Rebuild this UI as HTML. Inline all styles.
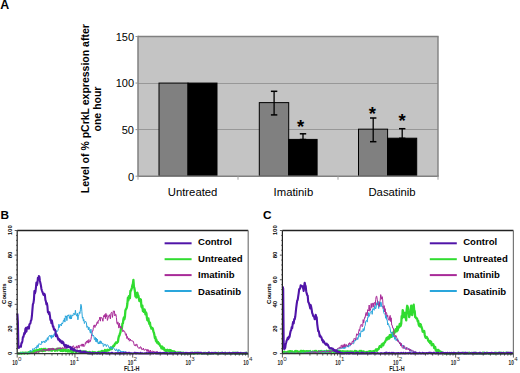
<!DOCTYPE html>
<html><head><meta charset="utf-8"><style>
html,body{margin:0;padding:0;background:#fff;}
body{width:520px;height:373px;overflow:hidden;font-family:"Liberation Sans", sans-serif;}
svg{display:block;}
</style></head><body>
<svg width="520" height="373" viewBox="0 0 520 373">
<rect x="138.0" y="36.5" width="300.0" height="139.7" fill="#c4c4c4"/>
<line x1="138.0" y1="129.50" x2="438.0" y2="129.50" stroke="#989898" stroke-width="1"/>
<line x1="138.0" y1="83.50" x2="438.0" y2="83.50" stroke="#989898" stroke-width="1"/>
<line x1="138.0" y1="36.5" x2="438.6" y2="36.5" stroke="#808080" stroke-width="1.4"/>
<line x1="438.0" y1="36.5" x2="438.0" y2="176.2" stroke="#808080" stroke-width="1.4"/>
<rect x="159" y="83.07" width="29" height="93.13" fill="#808080" stroke="#000" stroke-width="1"/>
<rect x="188" y="83.07" width="29" height="93.13" fill="#000" stroke="#000" stroke-width="1"/>
<rect x="259.3" y="102.62" width="29.399999999999977" height="73.58" fill="#808080" stroke="#000" stroke-width="1"/>
<rect x="288.7" y="139.41" width="28.400000000000034" height="36.79" fill="#000" stroke="#000" stroke-width="1"/>
<rect x="358.5" y="129.17" width="29.100000000000023" height="47.03" fill="#808080" stroke="#000" stroke-width="1"/>
<rect x="387.6" y="138.20" width="29.099999999999966" height="38.00" fill="#000" stroke="#000" stroke-width="1"/>
<line x1="274.1" y1="91.3" x2="274.1" y2="114.9" stroke="#000" stroke-width="1.3"/>
<line x1="270.90000000000003" y1="91.3" x2="277.3" y2="91.3" stroke="#000" stroke-width="1.5"/>
<line x1="270.90000000000003" y1="114.9" x2="277.3" y2="114.9" stroke="#000" stroke-width="1.5"/>
<line x1="303.0" y1="133.8" x2="303.0" y2="139.5" stroke="#000" stroke-width="1.3"/>
<line x1="299.8" y1="133.8" x2="306.2" y2="133.8" stroke="#000" stroke-width="1.5"/>
<line x1="299.8" y1="139.5" x2="306.2" y2="139.5" stroke="#000" stroke-width="1.5"/>
<line x1="373.2" y1="118.0" x2="373.2" y2="141.7" stroke="#000" stroke-width="1.3"/>
<line x1="370.0" y1="118.0" x2="376.4" y2="118.0" stroke="#000" stroke-width="1.5"/>
<line x1="370.0" y1="141.7" x2="376.4" y2="141.7" stroke="#000" stroke-width="1.5"/>
<line x1="402.2" y1="128.7" x2="402.2" y2="138.3" stroke="#000" stroke-width="1.3"/>
<line x1="399.0" y1="128.7" x2="405.4" y2="128.7" stroke="#000" stroke-width="1.5"/>
<line x1="399.0" y1="138.3" x2="405.4" y2="138.3" stroke="#000" stroke-width="1.5"/>
<line x1="138.0" y1="35.8" x2="138.0" y2="176.89999999999998" stroke="#808080" stroke-width="1.5"/>
<line x1="138.0" y1="176.2" x2="438.7" y2="176.2" stroke="#808080" stroke-width="1.5"/>
<line x1="135.5" y1="176.20" x2="138.0" y2="176.20" stroke="#909090" stroke-width="1"/>
<line x1="135.5" y1="129.63" x2="138.0" y2="129.63" stroke="#909090" stroke-width="1"/>
<line x1="135.5" y1="83.07" x2="138.0" y2="83.07" stroke="#909090" stroke-width="1"/>
<line x1="135.5" y1="36.50" x2="138.0" y2="36.50" stroke="#909090" stroke-width="1"/>
<line x1="138.0" y1="176.2" x2="138.0" y2="179.7" stroke="#a0a0a0" stroke-width="1"/>
<line x1="238.0" y1="176.2" x2="238.0" y2="179.7" stroke="#a0a0a0" stroke-width="1"/>
<line x1="338.0" y1="176.2" x2="338.0" y2="179.7" stroke="#a0a0a0" stroke-width="1"/>
<line x1="438.0" y1="176.2" x2="438.0" y2="179.7" stroke="#a0a0a0" stroke-width="1"/>
<text x="134" y="180.60" text-anchor="end" font-size="11" font-family="'Liberation Sans', sans-serif" fill="#000">0</text>
<text x="134" y="134.03" text-anchor="end" font-size="11" font-family="'Liberation Sans', sans-serif" fill="#000">50</text>
<text x="134" y="87.47" text-anchor="end" font-size="11" font-family="'Liberation Sans', sans-serif" fill="#000">100</text>
<text x="134" y="40.90" text-anchor="end" font-size="11" font-family="'Liberation Sans', sans-serif" fill="#000">150</text>
<text x="192.6" y="196.1" text-anchor="middle" font-size="11.3" font-family="'Liberation Sans', sans-serif" fill="#000">Untreated</text>
<text x="293.4" y="196.1" text-anchor="middle" font-size="11.3" font-family="'Liberation Sans', sans-serif" fill="#000">Imatinib</text>
<text x="392" y="196.1" text-anchor="middle" font-size="11.3" font-family="'Liberation Sans', sans-serif" fill="#000">Dasatinib</text>
<text x="300.5" y="133.11" text-anchor="middle" font-size="18.5" font-weight="bold" font-family="'Liberation Sans', sans-serif" fill="#000">*</text>
<text x="372.4" y="119.81" text-anchor="middle" font-size="18.5" font-weight="bold" font-family="'Liberation Sans', sans-serif" fill="#000">*</text>
<text x="402" y="126.91" text-anchor="middle" font-size="18.5" font-weight="bold" font-family="'Liberation Sans', sans-serif" fill="#000">*</text>
<text transform="translate(88.7,108.7) rotate(-90)" text-anchor="middle" font-size="10.5" font-weight="bold" font-family="'Liberation Sans', sans-serif" fill="#000">Level of % pCrkL expression after</text>
<text transform="translate(100.9,109) rotate(-90)" text-anchor="middle" font-size="10.5" font-weight="bold" font-family="'Liberation Sans', sans-serif" fill="#000">one hour</text>
<text x="0.3" y="8.9" font-size="12.4" font-weight="bold" font-family="'Liberation Sans', sans-serif" fill="#000">A</text>
<text x="0.6" y="219.1" font-size="11.8" font-weight="bold" font-family="'Liberation Sans', sans-serif" fill="#000">B</text>
<text x="263.0" y="219.1" font-size="11.8" font-weight="bold" font-family="'Liberation Sans', sans-serif" fill="#000">C</text>
<path d="M17.40,352.92 L17.90,353.50 L18.40,353.11 L18.90,353.50 L19.40,353.50 L19.90,353.32 L20.40,353.29 L20.90,352.60 L21.40,353.50 L21.90,353.50 L22.40,352.98 L22.90,352.57 L23.40,353.05 L23.90,353.35 L24.40,353.50 L24.90,352.73 L25.40,352.80 L25.90,352.71 L26.40,352.92 L26.90,352.59 L27.40,353.50 L27.90,352.63 L28.40,352.97 L28.90,352.11 L29.40,353.04 L29.90,351.89 L30.40,351.67 L30.90,352.33 L31.40,352.87 L31.90,352.24 L32.40,352.35 L32.90,351.69 L33.40,352.57 L33.90,351.02 L34.40,350.46 L34.90,351.47 L35.40,351.21 L35.90,350.46 L36.40,350.10 L36.90,351.07 L37.40,350.21 L37.90,349.87 L38.40,351.60 L38.90,351.50 L39.40,349.56 L39.90,349.11 L40.40,350.72 L40.90,350.08 L41.40,350.68 L41.90,349.05 L42.40,351.03 L42.90,350.57 L43.40,350.89 L43.90,348.91 L44.40,350.01 L44.90,350.70 L45.40,348.82 L45.90,350.25 L46.40,349.91 L46.90,349.93 L47.40,349.87 L47.90,349.51 L48.40,350.36 L48.90,349.52 L49.40,349.92 L49.90,350.28 L50.40,349.85 L50.90,349.10 L51.40,350.55 L51.90,350.79 L52.40,349.03 L52.90,348.91 L53.40,349.18 L53.90,349.69 L54.40,349.70 L54.90,350.87 L55.40,350.18 L55.90,349.90 L56.40,349.04 L56.90,349.70 L57.40,350.65 L57.90,349.88 L58.40,348.63 L58.90,349.29 L59.40,348.70 L59.90,349.89 L60.40,350.82 L60.90,350.69 L61.40,348.83 L61.90,350.81 L62.40,349.48 L62.90,351.02 L63.40,349.81 L63.90,350.68 L64.40,350.24 L64.90,349.46 L65.40,350.28 L65.90,351.14 L66.40,350.23 L66.90,350.44 L67.40,350.30 L67.90,351.47 L68.40,349.89 L68.90,350.58 L69.40,351.33 L69.90,351.52 L70.40,350.62 L70.90,350.53 L71.40,351.83 L71.90,350.47 L72.40,352.03 L72.90,352.09 L73.40,350.35 L73.90,350.95 L74.40,350.90 L74.90,351.10 L75.40,351.86 L75.90,352.18 L76.40,351.63 L76.90,351.02 L77.40,350.91 L77.90,351.35 L78.40,351.45 L78.90,351.16 L79.40,351.20 L79.90,352.04 L80.40,351.80 L80.90,352.22 L81.40,352.58 L81.90,351.34 L82.40,351.37 L82.90,351.63 L83.40,352.63 L83.90,352.75 L84.40,351.56 L84.90,351.71 L85.40,352.04 L85.90,351.34 L86.40,352.02 L86.90,352.32 L87.40,352.25 L87.90,353.01 L88.40,352.60 L88.90,352.97 L89.40,352.04 L89.90,352.42 L90.40,352.66 L90.90,353.04 L91.40,352.87 L91.90,352.95 L92.40,351.88 L92.90,352.05 L93.40,352.31 L93.90,352.45 L94.40,352.79 L94.90,352.17 L95.40,353.03 L95.90,353.10 L96.40,352.91 L96.90,353.01 L97.40,352.28 L97.90,352.24 L98.40,351.80 L98.90,351.79 L99.40,353.03 L99.90,351.83 L100.40,351.66 L100.90,352.23 L101.40,352.16 L101.90,350.85 L102.40,352.09 L102.90,351.11 L103.40,351.71 L103.90,351.28 L104.40,351.90 L104.90,349.95 L105.40,350.34 L105.90,350.45 L106.40,351.11 L106.90,350.64 L107.40,349.73 L107.90,350.60 L108.40,350.17 L108.90,350.03 L109.40,350.10 L109.90,349.09 L110.40,348.75 L110.90,347.44 L111.40,349.14 L111.90,348.89 L112.40,347.21 L112.90,347.03 L113.40,345.71 L113.90,346.15 L114.40,345.42 L114.90,343.96 L115.40,343.59 L115.90,342.51 L116.40,343.05 L116.90,343.04 L117.40,341.81 L117.90,341.97 L118.40,338.48 L118.90,336.14 L119.40,335.68 L119.90,333.64 L120.40,332.44 L120.90,329.05 L121.40,327.61 L121.90,328.20 L122.40,323.68 L122.90,323.29 L123.40,319.35 L123.90,317.48 L124.40,319.34 L124.90,316.81 L125.40,310.44 L125.90,309.25 L126.40,308.59 L126.90,307.19 L127.40,303.49 L127.90,297.73 L128.40,300.33 L128.90,296.13 L129.40,296.62 L129.90,298.27 L130.40,291.00 L130.90,290.93 L131.40,289.38 L131.90,287.80 L132.40,285.19 L132.90,283.96 L133.40,279.85 L133.90,286.80 L134.40,288.22 L134.90,291.09 L135.40,296.39 L135.90,296.40 L136.40,297.53 L136.90,293.10 L137.40,292.81 L137.90,295.31 L138.40,295.71 L138.90,298.48 L139.40,301.08 L139.90,299.09 L140.40,301.37 L140.90,299.49 L141.40,306.41 L141.90,307.66 L142.40,305.57 L142.90,311.13 L143.40,309.80 L143.90,311.90 L144.40,309.29 L144.90,310.51 L145.40,314.30 L145.90,312.27 L146.40,313.21 L146.90,317.85 L147.40,320.14 L147.90,320.52 L148.40,318.44 L148.90,322.20 L149.40,323.99 L149.90,322.50 L150.40,326.09 L150.90,326.83 L151.40,328.56 L151.90,328.21 L152.40,327.96 L152.90,329.04 L153.40,331.60 L153.90,332.73 L154.40,335.08 L154.90,338.01 L155.40,337.01 L155.90,340.87 L156.40,339.60 L156.90,342.51 L157.40,342.55 L157.90,341.88 L158.40,343.78 L158.90,343.19 L159.40,343.88 L159.90,345.53 L160.40,346.06 L160.90,346.51 L161.40,348.31 L161.90,346.33 L162.40,346.98 L162.90,348.70 L163.40,347.75 L163.90,347.98 L164.40,350.03 L164.90,350.38 L165.40,350.73 L165.90,349.88 L166.40,351.16 L166.90,350.39 L167.40,349.79 L167.90,350.59 L168.40,350.62 L168.90,351.46 L169.40,349.99 L169.90,352.03 L170.40,350.19 L170.90,350.39 L171.40,351.67 L171.90,350.91 L172.40,352.59 L172.90,352.63 L173.40,351.40 L173.90,351.23 L174.40,352.42 L174.90,352.99 L175.40,351.99 L175.90,352.93 L176.40,352.94 L176.90,353.09 L177.40,352.46 L177.90,352.55 L178.40,352.84 L178.90,352.44 L179.40,352.94 L179.90,352.53 L180.40,352.50 L180.90,353.39 L181.40,352.82 L181.90,353.50 L182.40,353.50 L182.90,352.64 L183.40,352.86 L183.90,353.32 L184.40,353.13 L184.90,352.98 L185.40,353.50 L185.90,353.50 L186.40,353.32 L186.90,353.50 L187.40,353.18 L187.90,353.19 L188.40,353.37 L188.90,353.49 L189.40,353.14 L189.90,353.50 L190.40,353.50 L190.90,353.02 L191.40,353.50 L191.90,352.74 L192.40,353.44 L192.90,353.50 L193.40,353.50 L193.90,353.48 L194.40,352.72 L194.90,353.50 L195.40,353.28 L195.90,352.97 L196.40,353.25 L196.90,353.01 L197.40,353.50 L197.90,352.78 L198.40,352.94 L198.90,353.11 L199.40,352.91 L199.90,353.12 L200.40,353.33 L200.90,353.20 L201.40,353.50 L201.90,353.50 L202.40,353.50 L202.90,353.34 L203.40,353.42 L203.90,352.92 L204.40,353.50 L204.90,352.81 L205.40,352.88 L205.90,353.02 L206.40,353.50 L206.90,353.19 L207.40,353.50 L207.90,353.50 L208.40,352.77 L208.90,353.50 L209.40,353.50 L209.90,353.50 L210.40,353.50 L210.90,353.50 L211.40,353.34 L211.90,353.50 L212.40,353.19 L212.90,353.23 L213.40,353.50 L213.90,352.97 L214.40,352.94 L214.90,352.86 L215.40,352.90 L215.90,353.50 L216.40,353.50 L216.90,352.98 L217.40,353.50 L217.90,353.39 L218.40,352.74 L218.90,353.50 L219.40,353.36 L219.90,353.50 L220.40,353.50 L220.90,352.88 L221.40,353.09 L221.90,352.99 L222.40,352.94 L222.90,353.50 L223.40,353.50 L223.90,353.42 L224.40,352.99 L224.90,352.84 L225.40,353.20 L225.90,353.01 L226.40,353.44 L226.90,353.50 L227.40,353.50 L227.90,352.97 L228.40,353.05 L228.90,353.26 L229.40,353.50 L229.90,353.50 L230.40,353.38 L230.90,353.50 L231.40,353.50 L231.90,353.32 L232.40,353.50 L232.90,352.72 L233.40,352.78 L233.90,353.50 L234.40,353.50 L234.90,352.79 L235.40,353.39 L235.90,352.85 L236.40,353.50 L236.90,353.50 L237.40,352.72 L237.90,353.50 L238.40,353.50 L238.90,353.50 L239.40,353.11 L239.90,353.50 L240.40,353.50 L240.90,353.50 L241.40,353.50 L241.90,353.00 L242.40,353.50 L242.90,353.50 L243.40,353.50 L243.90,353.50 L244.40,353.50 L244.90,352.85 L245.40,353.50 L245.90,353.50 L246.40,352.74 L246.90,353.50 L247.40,353.50 L247.90,353.28" fill="none" stroke="#30dc30" stroke-width="2.3" stroke-linejoin="round"/>
<path d="M17.40,352.90 L17.90,353.46 L18.40,352.77 L18.90,353.50 L19.40,352.89 L19.90,353.25 L20.40,353.50 L20.90,353.50 L21.40,353.41 L21.90,353.50 L22.40,353.35 L22.90,353.50 L23.40,352.93 L23.90,353.50 L24.40,353.44 L24.90,353.25 L25.40,353.21 L25.90,352.63 L26.40,353.38 L26.90,353.21 L27.40,353.46 L27.90,353.24 L28.40,353.50 L28.90,353.50 L29.40,353.50 L29.90,352.92 L30.40,353.19 L30.90,353.50 L31.40,353.10 L31.90,352.85 L32.40,353.14 L32.90,352.82 L33.40,353.50 L33.90,353.32 L34.40,352.46 L34.90,353.50 L35.40,352.52 L35.90,352.14 L36.40,353.05 L36.90,351.46 L37.40,351.50 L37.90,351.66 L38.40,352.48 L38.90,351.23 L39.40,351.51 L39.90,350.45 L40.40,350.48 L40.90,350.59 L41.40,351.31 L41.90,351.42 L42.40,351.19 L42.90,349.40 L43.40,350.04 L43.90,349.10 L44.40,350.51 L44.90,349.20 L45.40,350.88 L45.90,350.41 L46.40,350.56 L46.90,349.03 L47.40,350.74 L47.90,350.22 L48.40,348.40 L48.90,350.74 L49.40,348.34 L49.90,350.79 L50.40,348.79 L50.90,348.68 L51.40,349.44 L51.90,348.02 L52.40,350.01 L52.90,350.01 L53.40,348.05 L53.90,349.96 L54.40,349.13 L54.90,349.03 L55.40,349.05 L55.90,349.55 L56.40,350.23 L56.90,349.01 L57.40,347.77 L57.90,349.20 L58.40,348.27 L58.90,348.27 L59.40,347.93 L59.90,348.79 L60.40,347.57 L60.90,349.31 L61.40,348.03 L61.90,348.76 L62.40,347.57 L62.90,347.60 L63.40,348.72 L63.90,347.65 L64.40,348.11 L64.90,346.93 L65.40,348.58 L65.90,347.86 L66.40,346.83 L66.90,347.82 L67.40,346.77 L67.90,346.26 L68.40,346.73 L68.90,346.50 L69.40,346.88 L69.90,345.96 L70.40,348.85 L70.90,348.47 L71.40,347.98 L71.90,348.31 L72.40,347.06 L72.90,345.96 L73.40,345.74 L73.90,346.90 L74.40,348.65 L74.90,347.13 L75.40,347.83 L75.90,348.04 L76.40,345.85 L76.90,348.54 L77.40,348.18 L77.90,346.06 L78.40,345.21 L78.90,348.07 L79.40,347.86 L79.90,345.06 L80.40,345.46 L80.90,344.66 L81.40,344.35 L81.90,346.30 L82.40,343.92 L82.90,346.30 L83.40,343.96 L83.90,346.61 L84.40,345.85 L84.90,345.54 L85.40,342.56 L85.90,343.65 L86.40,341.24 L86.90,342.48 L87.40,340.51 L87.90,342.81 L88.40,343.00 L88.90,339.50 L89.40,342.00 L89.90,342.21 L90.40,341.16 L90.90,339.49 L91.40,336.67 L91.90,333.55 L92.40,330.86 L92.90,330.94 L93.40,327.44 L93.90,325.21 L94.40,325.02 L94.90,327.57 L95.40,326.52 L95.90,324.73 L96.40,325.21 L96.90,322.52 L97.40,321.70 L97.90,323.60 L98.40,320.29 L98.90,320.50 L99.40,319.62 L99.90,317.02 L100.40,321.17 L100.90,317.23 L101.40,317.66 L101.90,317.76 L102.40,318.91 L102.90,321.26 L103.40,317.28 L103.90,315.39 L104.40,316.92 L104.90,314.40 L105.40,318.62 L105.90,313.38 L106.40,316.74 L106.90,314.84 L107.40,320.43 L107.90,318.74 L108.40,317.31 L108.90,315.50 L109.40,314.67 L109.90,316.82 L110.40,318.96 L110.90,313.42 L111.40,312.40 L111.90,312.21 L112.40,317.45 L112.90,314.83 L113.40,310.80 L113.90,311.37 L114.40,311.06 L114.90,316.00 L115.40,314.27 L115.90,314.24 L116.40,317.52 L116.90,323.14 L117.40,324.28 L117.90,321.87 L118.40,324.94 L118.90,328.11 L119.40,323.28 L119.90,326.81 L120.40,328.17 L120.90,326.14 L121.40,327.43 L121.90,328.47 L122.40,329.25 L122.90,331.85 L123.40,330.34 L123.90,330.46 L124.40,331.78 L124.90,331.68 L125.40,334.51 L125.90,335.47 L126.40,333.76 L126.90,338.57 L127.40,336.48 L127.90,338.39 L128.40,339.95 L128.90,338.06 L129.40,341.18 L129.90,340.65 L130.40,339.09 L130.90,340.84 L131.40,340.68 L131.90,340.78 L132.40,340.69 L132.90,341.66 L133.40,341.48 L133.90,343.82 L134.40,345.57 L134.90,345.12 L135.40,344.60 L135.90,346.15 L136.40,344.31 L136.90,344.10 L137.40,345.84 L137.90,347.27 L138.40,348.07 L138.90,348.30 L139.40,347.51 L139.90,348.58 L140.40,346.71 L140.90,346.90 L141.40,347.65 L141.90,349.83 L142.40,349.54 L142.90,349.24 L143.40,348.05 L143.90,350.09 L144.40,350.01 L144.90,350.37 L145.40,349.25 L145.90,349.27 L146.40,349.46 L146.90,351.33 L147.40,349.50 L147.90,351.52 L148.40,349.69 L148.90,351.86 L149.40,350.80 L149.90,351.92 L150.40,350.01 L150.90,352.07 L151.40,351.95 L151.90,351.75 L152.40,351.08 L152.90,350.92 L153.40,352.35 L153.90,351.21 L154.40,352.67 L154.90,351.77 L155.40,352.12 L155.90,351.81 L156.40,351.59 L156.90,351.76 L157.40,351.55 L157.90,351.98 L158.40,353.30 L158.90,351.98 L159.40,352.51 L159.90,353.46 L160.40,352.96 L160.90,352.58 L161.40,352.95 L161.90,352.47 L162.40,353.39 L162.90,353.06 L163.40,352.93 L163.90,353.07 L164.40,353.08 L164.90,353.43 L165.40,353.50 L165.90,352.89 L166.40,353.04 L166.90,353.50 L167.40,353.04 L167.90,352.91 L168.40,353.39 L168.90,353.50 L169.40,353.50 L169.90,352.99 L170.40,353.43 L170.90,353.39 L171.40,353.33 L171.90,352.66 L172.40,353.06 L172.90,353.48 L173.40,353.50 L173.90,353.08 L174.40,352.83 L174.90,353.20 L175.40,353.50 L175.90,353.32 L176.40,353.15 L176.90,353.42 L177.40,353.32 L177.90,353.30 L178.40,352.65 L178.90,353.50 L179.40,353.25 L179.90,353.50 L180.40,353.50 L180.90,353.20 L181.40,353.26 L181.90,352.85 L182.40,353.30 L182.90,353.50 L183.40,352.83 L183.90,352.74 L184.40,353.50 L184.90,353.20 L185.40,352.74 L185.90,353.17 L186.40,353.50 L186.90,352.81 L187.40,352.70 L187.90,353.27 L188.40,353.30 L188.90,353.50 L189.40,352.65 L189.90,353.13 L190.40,353.50 L190.90,353.43 L191.40,353.27 L191.90,352.95 L192.40,352.82 L192.90,353.40 L193.40,353.41 L193.90,353.34 L194.40,353.09 L194.90,353.49 L195.40,353.03 L195.90,352.95 L196.40,353.50 L196.90,353.38 L197.40,353.50 L197.90,353.07 L198.40,352.70 L198.90,353.03 L199.40,353.50 L199.90,353.32 L200.40,352.92 L200.90,352.65 L201.40,353.13 L201.90,353.05 L202.40,352.76 L202.90,353.50 L203.40,353.50 L203.90,353.50 L204.40,353.14 L204.90,353.50 L205.40,353.21 L205.90,353.26 L206.40,353.50 L206.90,353.13 L207.40,353.15 L207.90,353.44 L208.40,352.91 L208.90,353.50 L209.40,353.50 L209.90,352.75 L210.40,353.45 L210.90,353.50 L211.40,353.10 L211.90,353.50 L212.40,353.07 L212.90,353.50 L213.40,353.19 L213.90,353.05 L214.40,353.50 L214.90,353.14 L215.40,352.82 L215.90,353.50 L216.40,353.50 L216.90,353.20 L217.40,353.50 L217.90,352.69 L218.40,353.15 L218.90,353.29 L219.40,352.87 L219.90,352.83 L220.40,353.13 L220.90,353.50 L221.40,353.00 L221.90,353.02 L222.40,352.65 L222.90,353.50 L223.40,352.76 L223.90,352.95 L224.40,353.50 L224.90,353.50 L225.40,352.64 L225.90,352.77 L226.40,353.12 L226.90,353.50 L227.40,352.72 L227.90,353.50 L228.40,352.94 L228.90,352.79 L229.40,353.50 L229.90,352.96 L230.40,352.81 L230.90,353.35 L231.40,353.06 L231.90,352.68 L232.40,352.83 L232.90,353.38 L233.40,353.40 L233.90,352.96 L234.40,352.85 L234.90,352.95 L235.40,353.41 L235.90,353.02 L236.40,353.50 L236.90,352.78 L237.40,352.68 L237.90,353.40 L238.40,353.50 L238.90,353.01 L239.40,353.10 L239.90,353.08 L240.40,353.16 L240.90,353.50 L241.40,353.45 L241.90,353.50 L242.40,352.82 L242.90,353.48 L243.40,353.19 L243.90,352.98 L244.40,353.39 L244.90,353.15 L245.40,353.13 L245.90,353.18 L246.40,353.50 L246.90,353.50 L247.40,353.50 L247.90,353.18" fill="none" stroke="#a82a98" stroke-width="1.0" stroke-linejoin="round"/>
<path d="M17.40,353.50 L17.90,353.32 L18.40,353.50 L18.90,353.35 L19.40,353.50 L19.90,352.80 L20.40,353.29 L20.90,352.81 L21.40,352.64 L21.90,352.74 L22.40,353.00 L22.90,352.89 L23.40,353.39 L23.90,353.34 L24.40,352.89 L24.90,353.50 L25.40,353.11 L25.90,353.50 L26.40,353.15 L26.90,352.83 L27.40,352.87 L27.90,353.50 L28.40,353.10 L28.90,352.59 L29.40,352.10 L29.90,351.42 L30.40,350.29 L30.90,351.44 L31.40,351.09 L31.90,351.35 L32.40,350.06 L32.90,348.57 L33.40,349.20 L33.90,349.27 L34.40,349.07 L34.90,347.79 L35.40,347.61 L35.90,347.41 L36.40,348.59 L36.90,345.60 L37.40,345.24 L37.90,347.67 L38.40,345.99 L38.90,343.62 L39.40,343.93 L39.90,344.08 L40.40,344.06 L40.90,344.81 L41.40,343.63 L41.90,341.12 L42.40,342.75 L42.90,342.60 L43.40,342.04 L43.90,340.99 L44.40,341.34 L44.90,342.89 L45.40,340.29 L45.90,339.92 L46.40,341.49 L46.90,339.44 L47.40,337.65 L47.90,340.24 L48.40,337.63 L48.90,336.16 L49.40,335.80 L49.90,335.10 L50.40,337.12 L50.90,335.47 L51.40,338.52 L51.90,334.94 L52.40,337.38 L52.90,336.33 L53.40,337.13 L53.90,334.29 L54.40,333.50 L54.90,335.61 L55.40,334.74 L55.90,334.60 L56.40,330.67 L56.90,331.71 L57.40,331.15 L57.90,330.79 L58.40,328.43 L58.90,324.18 L59.40,327.44 L59.90,325.07 L60.40,324.28 L60.90,325.26 L61.40,325.91 L61.90,322.89 L62.40,323.98 L62.90,322.87 L63.40,320.40 L63.90,321.16 L64.40,318.29 L64.90,322.10 L65.40,315.81 L65.90,316.71 L66.40,315.92 L66.90,320.65 L67.40,315.42 L67.90,315.46 L68.40,315.99 L68.90,314.70 L69.40,318.41 L69.90,316.43 L70.40,319.05 L70.90,314.78 L71.40,318.95 L71.90,316.34 L72.40,315.33 L72.90,316.02 L73.40,313.48 L73.90,313.39 L74.40,313.49 L74.90,315.10 L75.40,310.21 L75.90,314.04 L76.40,314.92 L76.90,316.23 L77.40,313.30 L77.90,319.80 L78.40,316.25 L78.90,314.70 L79.40,311.90 L79.90,313.51 L80.40,309.82 L80.90,304.32 L81.40,305.75 L81.90,311.66 L82.40,318.19 L82.90,317.07 L83.40,321.05 L83.90,319.47 L84.40,323.54 L84.90,322.30 L85.40,321.11 L85.90,321.73 L86.40,322.69 L86.90,327.43 L87.40,326.26 L87.90,326.49 L88.40,329.98 L88.90,327.09 L89.40,329.53 L89.90,331.20 L90.40,333.17 L90.90,329.13 L91.40,332.72 L91.90,332.78 L92.40,335.18 L92.90,336.20 L93.40,335.24 L93.90,336.24 L94.40,339.67 L94.90,339.63 L95.40,337.34 L95.90,341.76 L96.40,338.12 L96.90,342.18 L97.40,339.11 L97.90,342.95 L98.40,344.04 L98.90,342.19 L99.40,343.80 L99.90,340.98 L100.40,340.89 L100.90,343.75 L101.40,341.56 L101.90,343.58 L102.40,343.61 L102.90,343.01 L103.40,346.49 L103.90,345.74 L104.40,345.16 L104.90,343.99 L105.40,344.31 L105.90,345.75 L106.40,346.59 L106.90,344.80 L107.40,344.71 L107.90,345.23 L108.40,345.91 L108.90,347.12 L109.40,348.36 L109.90,347.29 L110.40,348.30 L110.90,346.50 L111.40,348.17 L111.90,349.25 L112.40,347.23 L112.90,347.75 L113.40,347.68 L113.90,348.13 L114.40,349.27 L114.90,350.16 L115.40,349.99 L115.90,350.93 L116.40,348.83 L116.90,349.72 L117.40,350.36 L117.90,351.76 L118.40,349.48 L118.90,351.36 L119.40,349.79 L119.90,350.07 L120.40,351.20 L120.90,352.12 L121.40,351.05 L121.90,351.76 L122.40,351.83 L122.90,351.06 L123.40,352.23 L123.90,351.40 L124.40,352.69 L124.90,351.73 L125.40,351.62 L125.90,352.13 L126.40,352.92 L126.90,353.16 L127.40,353.50 L127.90,352.92 L128.40,352.47 L128.90,353.50 L129.40,352.66 L129.90,353.50 L130.40,352.89 L130.90,352.78 L131.40,353.50 L131.90,353.50 L132.40,353.03 L132.90,353.50 L133.40,353.50 L133.90,353.50 L134.40,353.50 L134.90,353.20 L135.40,353.14 L135.90,353.39 L136.40,353.02 L136.90,353.50 L137.40,353.15 L137.90,353.15 L138.40,352.72 L138.90,353.50 L139.40,353.47 L139.90,353.17 L140.40,353.50 L140.90,353.50 L141.40,353.50 L141.90,352.98 L142.40,352.94 L142.90,353.43 L143.40,353.50 L143.90,353.50 L144.40,353.50 L144.90,353.01 L145.40,353.50 L145.90,353.50 L146.40,352.96 L146.90,353.50 L147.40,353.50 L147.90,352.67 L148.40,352.92 L148.90,353.50 L149.40,353.50 L149.90,353.50 L150.40,353.43 L150.90,353.14 L151.40,352.65 L151.90,352.69 L152.40,353.50 L152.90,352.78 L153.40,353.38 L153.90,353.44 L154.40,353.01 L154.90,353.33 L155.40,353.50 L155.90,352.81 L156.40,353.39 L156.90,353.50 L157.40,353.17 L157.90,352.66 L158.40,352.97 L158.90,353.05 L159.40,353.45 L159.90,352.99 L160.40,352.98 L160.90,353.15 L161.40,352.70 L161.90,353.18 L162.40,352.94 L162.90,353.50 L163.40,353.50 L163.90,353.06 L164.40,352.67 L164.90,353.16 L165.40,353.12 L165.90,352.77 L166.40,353.17 L166.90,353.50 L167.40,353.50 L167.90,353.50 L168.40,353.24 L168.90,353.41 L169.40,353.50 L169.90,352.65 L170.40,352.99 L170.90,353.32 L171.40,352.99 L171.90,353.50 L172.40,353.28 L172.90,352.77 L173.40,353.38 L173.90,352.95 L174.40,353.50 L174.90,353.27 L175.40,353.50 L175.90,352.87 L176.40,353.30 L176.90,353.50 L177.40,353.25 L177.90,352.94 L178.40,353.42 L178.90,353.50 L179.40,352.85 L179.90,352.87 L180.40,353.50 L180.90,353.50 L181.40,353.50 L181.90,352.73 L182.40,352.91 L182.90,353.50 L183.40,353.50 L183.90,352.65 L184.40,353.50 L184.90,352.70 L185.40,353.30 L185.90,353.50 L186.40,352.75 L186.90,353.40 L187.40,353.50 L187.90,352.99 L188.40,353.42 L188.90,353.50 L189.40,353.50 L189.90,353.50 L190.40,353.50 L190.90,353.50 L191.40,353.16 L191.90,353.22 L192.40,353.50 L192.90,353.50 L193.40,352.77 L193.90,353.50 L194.40,352.98 L194.90,352.91 L195.40,353.50 L195.90,353.48 L196.40,352.96 L196.90,353.05 L197.40,353.41 L197.90,352.98 L198.40,353.22 L198.90,352.94 L199.40,353.38 L199.90,353.50 L200.40,353.42 L200.90,353.20 L201.40,352.88 L201.90,353.48 L202.40,352.98 L202.90,353.41 L203.40,353.50 L203.90,353.50 L204.40,353.50 L204.90,352.73 L205.40,353.50 L205.90,353.37 L206.40,353.50 L206.90,353.39 L207.40,353.50 L207.90,352.76 L208.40,353.32 L208.90,353.50 L209.40,353.50 L209.90,353.35 L210.40,353.50 L210.90,352.82 L211.40,353.50 L211.90,352.85 L212.40,353.42 L212.90,353.42 L213.40,352.64 L213.90,353.50 L214.40,353.26 L214.90,352.84 L215.40,353.50 L215.90,352.79 L216.40,353.50 L216.90,352.94 L217.40,353.50 L217.90,353.50 L218.40,353.50 L218.90,353.50 L219.40,352.68 L219.90,353.50 L220.40,353.01 L220.90,353.50 L221.40,353.00 L221.90,352.64 L222.40,352.68 L222.90,353.50 L223.40,353.11 L223.90,353.50 L224.40,353.01 L224.90,353.10 L225.40,352.96 L225.90,352.64 L226.40,353.09 L226.90,352.82 L227.40,353.50 L227.90,353.50 L228.40,353.50 L228.90,352.63 L229.40,353.40 L229.90,352.88 L230.40,353.17 L230.90,353.40 L231.40,353.06 L231.90,353.25 L232.40,353.50 L232.90,353.50 L233.40,352.80 L233.90,353.22 L234.40,353.20 L234.90,353.50 L235.40,353.50 L235.90,352.73 L236.40,353.10 L236.90,353.50 L237.40,353.22 L237.90,353.07 L238.40,353.50 L238.90,353.50 L239.40,353.50 L239.90,352.98 L240.40,353.50 L240.90,353.50 L241.40,353.50 L241.90,352.92 L242.40,352.96 L242.90,353.50 L243.40,353.28 L243.90,352.80 L244.40,353.50 L244.90,353.50 L245.40,352.85 L245.90,353.10 L246.40,353.50 L246.90,353.50 L247.40,352.89 L247.90,353.26" fill="none" stroke="#2aa6dc" stroke-width="1.0" stroke-linejoin="round"/>
<path d="M17.40,313.44 L17.90,322.34 L18.40,347.21 L18.90,347.99 L19.40,346.53 L19.90,346.46 L20.40,346.78 L20.90,346.75 L21.40,343.02 L21.90,343.06 L22.40,340.95 L22.90,337.20 L23.40,336.90 L23.90,334.75 L24.40,332.79 L24.90,333.54 L25.40,328.79 L25.90,327.95 L26.40,331.59 L26.90,328.66 L27.40,327.21 L27.90,327.15 L28.40,326.60 L28.90,328.70 L29.40,324.45 L29.90,323.77 L30.40,323.35 L30.90,320.57 L31.40,319.92 L31.90,315.97 L32.40,309.84 L32.90,304.21 L33.40,303.12 L33.90,299.94 L34.40,291.12 L34.90,293.34 L35.40,291.79 L35.90,287.81 L36.40,282.55 L36.90,285.18 L37.40,283.22 L37.90,277.81 L38.40,279.59 L38.90,276.02 L39.40,276.75 L39.90,280.91 L40.40,282.92 L40.90,285.37 L41.40,288.67 L41.90,290.49 L42.40,291.84 L42.90,293.22 L43.40,294.80 L43.90,295.05 L44.40,293.82 L44.90,294.99 L45.40,299.89 L45.90,301.39 L46.40,304.30 L46.90,303.15 L47.40,306.20 L47.90,312.25 L48.40,312.01 L48.90,314.13 L49.40,312.35 L49.90,315.61 L50.40,319.88 L50.90,319.94 L51.40,323.16 L51.90,320.57 L52.40,323.42 L52.90,326.63 L53.40,326.43 L53.90,329.50 L54.40,329.91 L54.90,329.42 L55.40,330.95 L55.90,336.24 L56.40,334.27 L56.90,335.24 L57.40,336.45 L57.90,338.55 L58.40,339.72 L58.90,338.94 L59.40,339.70 L59.90,341.41 L60.40,340.28 L60.90,341.29 L61.40,342.60 L61.90,343.05 L62.40,341.45 L62.90,342.08 L63.40,342.55 L63.90,344.79 L64.40,345.05 L64.90,346.28 L65.40,346.03 L65.90,344.89 L66.40,346.77 L66.90,347.77 L67.40,346.33 L67.90,345.64 L68.40,346.89 L68.90,346.89 L69.40,346.86 L69.90,346.77 L70.40,347.24 L70.90,349.38 L71.40,347.60 L71.90,349.25 L72.40,348.53 L72.90,348.77 L73.40,350.48 L73.90,349.45 L74.40,349.33 L74.90,350.07 L75.40,350.72 L75.90,350.48 L76.40,351.32 L76.90,350.48 L77.40,350.87 L77.90,351.39 L78.40,351.00 L78.90,351.64 L79.40,351.28 L79.90,350.77 L80.40,350.86 L80.90,352.19 L81.40,352.20 L81.90,352.64 L82.40,352.27 L82.90,352.16 L83.40,351.54 L83.90,352.80 L84.40,351.66 L84.90,352.26 L85.40,351.89 L85.90,352.37 L86.40,352.36 L86.90,352.63 L87.40,353.14 L87.90,352.98 L88.40,352.66 L88.90,353.47 L89.40,353.49 L89.90,353.50 L90.40,352.73 L90.90,353.44 L91.40,353.50 L91.90,353.01 L92.40,352.94 L92.90,353.50 L93.40,353.13 L93.90,353.18 L94.40,353.50 L94.90,353.16 L95.40,352.93 L95.90,352.95 L96.40,353.11 L96.90,353.50 L97.40,353.14 L97.90,353.50 L98.40,352.77 L98.90,352.99 L99.40,353.45 L99.90,353.28 L100.40,353.30 L100.90,353.50 L101.40,353.03 L101.90,352.91 L102.40,352.73 L102.90,353.28 L103.40,353.05 L103.90,353.27 L104.40,352.70 L104.90,352.69 L105.40,353.15 L105.90,353.50 L106.40,353.06 L106.90,353.50 L107.40,353.40 L107.90,353.18 L108.40,353.50 L108.90,352.98 L109.40,353.43 L109.90,353.50 L110.40,353.35 L110.90,353.08 L111.40,352.81 L111.90,353.39 L112.40,352.92 L112.90,353.15 L113.40,353.35 L113.90,353.50 L114.40,353.50 L114.90,353.32 L115.40,353.50 L115.90,353.07 L116.40,353.16 L116.90,353.50 L117.40,353.37 L117.90,352.96 L118.40,353.19 L118.90,353.50 L119.40,352.99 L119.90,353.50 L120.40,352.75 L120.90,353.50 L121.40,353.50 L121.90,353.09 L122.40,353.50 L122.90,353.50 L123.40,352.77 L123.90,352.99 L124.40,353.29 L124.90,353.50 L125.40,352.86 L125.90,352.75 L126.40,353.07 L126.90,352.75 L127.40,353.19 L127.90,353.35 L128.40,353.23 L128.90,352.86 L129.40,352.72 L129.90,353.50 L130.40,353.23 L130.90,353.28 L131.40,353.27 L131.90,353.50 L132.40,353.50 L132.90,353.50 L133.40,353.50 L133.90,353.10 L134.40,352.90 L134.90,352.80 L135.40,353.50 L135.90,352.76 L136.40,353.38 L136.90,353.50 L137.40,353.08 L137.90,353.17 L138.40,353.20 L138.90,353.50 L139.40,353.50 L139.90,353.50 L140.40,352.74 L140.90,353.50 L141.40,353.24 L141.90,353.18 L142.40,353.50 L142.90,353.50 L143.40,353.50 L143.90,353.50 L144.40,353.50 L144.90,353.21 L145.40,353.37 L145.90,353.50 L146.40,353.24 L146.90,352.86 L147.40,353.40 L147.90,353.50 L148.40,353.50 L148.90,352.84 L149.40,353.16 L149.90,352.97 L150.40,353.11 L150.90,353.50 L151.40,353.20 L151.90,353.07 L152.40,353.02 L152.90,353.23 L153.40,353.50 L153.90,353.11 L154.40,352.92 L154.90,352.97 L155.40,353.01 L155.90,353.50 L156.40,352.90 L156.90,353.50 L157.40,352.82 L157.90,353.50 L158.40,353.02 L158.90,353.50 L159.40,353.22 L159.90,352.79 L160.40,352.81 L160.90,353.50 L161.40,353.35 L161.90,353.28 L162.40,353.12 L162.90,353.50 L163.40,353.28 L163.90,352.77 L164.40,353.42 L164.90,353.07 L165.40,353.50 L165.90,353.36 L166.40,353.50 L166.90,352.84 L167.40,353.50 L167.90,353.43 L168.40,353.50 L168.90,353.50 L169.40,353.36 L169.90,353.41 L170.40,353.50 L170.90,353.01 L171.40,353.35 L171.90,353.50 L172.40,353.41 L172.90,353.35 L173.40,353.50 L173.90,353.50 L174.40,353.01 L174.90,352.78 L175.40,353.44 L175.90,352.87 L176.40,353.50 L176.90,353.27 L177.40,353.34 L177.90,353.50 L178.40,353.50 L178.90,352.86 L179.40,353.24 L179.90,352.91 L180.40,353.25 L180.90,352.85 L181.40,353.50 L181.90,353.12 L182.40,353.17 L182.90,353.50 L183.40,353.50 L183.90,353.10 L184.40,353.30 L184.90,353.50 L185.40,352.92 L185.90,352.86 L186.40,353.50 L186.90,352.89 L187.40,353.50 L187.90,353.50 L188.40,353.41 L188.90,353.11 L189.40,353.50 L189.90,353.50 L190.40,352.78 L190.90,353.50 L191.40,353.47 L191.90,353.04 L192.40,352.90 L192.90,352.81 L193.40,353.50 L193.90,353.50 L194.40,353.11 L194.90,352.91 L195.40,352.78 L195.90,353.20 L196.40,353.05 L196.90,352.76 L197.40,353.05 L197.90,353.50 L198.40,352.77 L198.90,353.18 L199.40,353.32 L199.90,352.89 L200.40,352.74 L200.90,352.78 L201.40,352.87 L201.90,353.50 L202.40,353.50 L202.90,353.50 L203.40,353.50 L203.90,353.09 L204.40,353.00 L204.90,353.50 L205.40,353.43 L205.90,353.50 L206.40,353.13 L206.90,353.19 L207.40,353.50 L207.90,353.50 L208.40,352.89 L208.90,353.01 L209.40,352.71 L209.90,353.37 L210.40,353.50 L210.90,353.38 L211.40,352.87 L211.90,353.50 L212.40,353.48 L212.90,352.82 L213.40,353.50 L213.90,353.49 L214.40,353.29 L214.90,353.11 L215.40,352.89 L215.90,353.26 L216.40,353.14 L216.90,352.98 L217.40,353.48 L217.90,353.50 L218.40,353.50 L218.90,353.50 L219.40,353.26 L219.90,353.50 L220.40,353.15 L220.90,353.22 L221.40,353.38 L221.90,353.50 L222.40,352.74 L222.90,353.25 L223.40,353.10 L223.90,353.50 L224.40,353.50 L224.90,353.27 L225.40,352.79 L225.90,353.41 L226.40,353.41 L226.90,353.50 L227.40,353.50 L227.90,353.26 L228.40,353.36 L228.90,353.50 L229.40,352.73 L229.90,352.98 L230.40,353.50 L230.90,353.50 L231.40,353.50 L231.90,353.03 L232.40,353.50 L232.90,353.03 L233.40,353.24 L233.90,352.89 L234.40,353.42 L234.90,353.17 L235.40,353.50 L235.90,353.50 L236.40,352.85 L236.90,353.49 L237.40,353.42 L237.90,353.03 L238.40,352.73 L238.90,353.50 L239.40,353.50 L239.90,353.45 L240.40,352.82 L240.90,353.50 L241.40,353.18 L241.90,353.26 L242.40,353.37 L242.90,353.23 L243.40,353.50 L243.90,353.26 L244.40,353.50 L244.90,353.50 L245.40,353.50 L245.90,352.90 L246.40,353.10 L246.90,353.50 L247.40,353.43 L247.90,353.15" fill="none" stroke="#5014a8" stroke-width="2.1" stroke-linejoin="round"/>
<line x1="17.2" y1="230.5" x2="248.2" y2="230.5" stroke="#222" stroke-width="1.3"/>
<line x1="248.2" y1="230.5" x2="248.2" y2="353.6" stroke="#777" stroke-width="1.2"/>
<line x1="17.2" y1="230.5" x2="17.2" y2="353.6" stroke="#222" stroke-width="1.2"/>
<line x1="17.2" y1="353.6" x2="248.2" y2="353.6" stroke="#333" stroke-width="1.1"/>
<line x1="14.7" y1="353.60" x2="17.2" y2="353.60" stroke="#333" stroke-width="0.8"/>
<line x1="16.0" y1="348.68" x2="17.2" y2="348.68" stroke="#333" stroke-width="0.8"/>
<line x1="16.0" y1="343.75" x2="17.2" y2="343.75" stroke="#333" stroke-width="0.8"/>
<line x1="16.0" y1="338.83" x2="17.2" y2="338.83" stroke="#333" stroke-width="0.8"/>
<line x1="16.0" y1="333.90" x2="17.2" y2="333.90" stroke="#333" stroke-width="0.8"/>
<line x1="14.7" y1="328.98" x2="17.2" y2="328.98" stroke="#333" stroke-width="0.8"/>
<line x1="16.0" y1="324.06" x2="17.2" y2="324.06" stroke="#333" stroke-width="0.8"/>
<line x1="16.0" y1="319.13" x2="17.2" y2="319.13" stroke="#333" stroke-width="0.8"/>
<line x1="16.0" y1="314.21" x2="17.2" y2="314.21" stroke="#333" stroke-width="0.8"/>
<line x1="16.0" y1="309.28" x2="17.2" y2="309.28" stroke="#333" stroke-width="0.8"/>
<line x1="14.7" y1="304.36" x2="17.2" y2="304.36" stroke="#333" stroke-width="0.8"/>
<line x1="16.0" y1="299.44" x2="17.2" y2="299.44" stroke="#333" stroke-width="0.8"/>
<line x1="16.0" y1="294.51" x2="17.2" y2="294.51" stroke="#333" stroke-width="0.8"/>
<line x1="16.0" y1="289.59" x2="17.2" y2="289.59" stroke="#333" stroke-width="0.8"/>
<line x1="16.0" y1="284.66" x2="17.2" y2="284.66" stroke="#333" stroke-width="0.8"/>
<line x1="14.7" y1="279.74" x2="17.2" y2="279.74" stroke="#333" stroke-width="0.8"/>
<line x1="16.0" y1="274.82" x2="17.2" y2="274.82" stroke="#333" stroke-width="0.8"/>
<line x1="16.0" y1="269.89" x2="17.2" y2="269.89" stroke="#333" stroke-width="0.8"/>
<line x1="16.0" y1="264.97" x2="17.2" y2="264.97" stroke="#333" stroke-width="0.8"/>
<line x1="16.0" y1="260.04" x2="17.2" y2="260.04" stroke="#333" stroke-width="0.8"/>
<line x1="14.7" y1="255.12" x2="17.2" y2="255.12" stroke="#333" stroke-width="0.8"/>
<line x1="16.0" y1="250.20" x2="17.2" y2="250.20" stroke="#333" stroke-width="0.8"/>
<line x1="16.0" y1="245.27" x2="17.2" y2="245.27" stroke="#333" stroke-width="0.8"/>
<line x1="16.0" y1="240.35" x2="17.2" y2="240.35" stroke="#333" stroke-width="0.8"/>
<line x1="16.0" y1="235.42" x2="17.2" y2="235.42" stroke="#333" stroke-width="0.8"/>
<line x1="14.7" y1="230.50" x2="17.2" y2="230.50" stroke="#333" stroke-width="0.8"/>
<line x1="17.20" y1="353.6" x2="17.20" y2="357.6" stroke="#333" stroke-width="0.8"/>
<line x1="34.58" y1="353.6" x2="34.58" y2="355.6" stroke="#333" stroke-width="0.8"/>
<line x1="44.75" y1="353.6" x2="44.75" y2="355.6" stroke="#333" stroke-width="0.8"/>
<line x1="51.97" y1="353.6" x2="51.97" y2="355.6" stroke="#333" stroke-width="0.8"/>
<line x1="57.57" y1="353.6" x2="57.57" y2="355.6" stroke="#333" stroke-width="0.8"/>
<line x1="62.14" y1="353.6" x2="62.14" y2="355.6" stroke="#333" stroke-width="0.8"/>
<line x1="66.00" y1="353.6" x2="66.00" y2="355.6" stroke="#333" stroke-width="0.8"/>
<line x1="69.35" y1="353.6" x2="69.35" y2="355.6" stroke="#333" stroke-width="0.8"/>
<line x1="72.31" y1="353.6" x2="72.31" y2="355.6" stroke="#333" stroke-width="0.8"/>
<line x1="74.95" y1="353.6" x2="74.95" y2="357.6" stroke="#333" stroke-width="0.8"/>
<line x1="92.33" y1="353.6" x2="92.33" y2="355.6" stroke="#333" stroke-width="0.8"/>
<line x1="102.50" y1="353.6" x2="102.50" y2="355.6" stroke="#333" stroke-width="0.8"/>
<line x1="109.72" y1="353.6" x2="109.72" y2="355.6" stroke="#333" stroke-width="0.8"/>
<line x1="115.32" y1="353.6" x2="115.32" y2="355.6" stroke="#333" stroke-width="0.8"/>
<line x1="119.89" y1="353.6" x2="119.89" y2="355.6" stroke="#333" stroke-width="0.8"/>
<line x1="123.75" y1="353.6" x2="123.75" y2="355.6" stroke="#333" stroke-width="0.8"/>
<line x1="127.10" y1="353.6" x2="127.10" y2="355.6" stroke="#333" stroke-width="0.8"/>
<line x1="130.06" y1="353.6" x2="130.06" y2="355.6" stroke="#333" stroke-width="0.8"/>
<line x1="132.70" y1="353.6" x2="132.70" y2="357.6" stroke="#333" stroke-width="0.8"/>
<line x1="150.08" y1="353.6" x2="150.08" y2="355.6" stroke="#333" stroke-width="0.8"/>
<line x1="160.25" y1="353.6" x2="160.25" y2="355.6" stroke="#333" stroke-width="0.8"/>
<line x1="167.47" y1="353.6" x2="167.47" y2="355.6" stroke="#333" stroke-width="0.8"/>
<line x1="173.07" y1="353.6" x2="173.07" y2="355.6" stroke="#333" stroke-width="0.8"/>
<line x1="177.64" y1="353.6" x2="177.64" y2="355.6" stroke="#333" stroke-width="0.8"/>
<line x1="181.50" y1="353.6" x2="181.50" y2="355.6" stroke="#333" stroke-width="0.8"/>
<line x1="184.85" y1="353.6" x2="184.85" y2="355.6" stroke="#333" stroke-width="0.8"/>
<line x1="187.81" y1="353.6" x2="187.81" y2="355.6" stroke="#333" stroke-width="0.8"/>
<line x1="190.45" y1="353.6" x2="190.45" y2="357.6" stroke="#333" stroke-width="0.8"/>
<line x1="207.83" y1="353.6" x2="207.83" y2="355.6" stroke="#333" stroke-width="0.8"/>
<line x1="218.00" y1="353.6" x2="218.00" y2="355.6" stroke="#333" stroke-width="0.8"/>
<line x1="225.22" y1="353.6" x2="225.22" y2="355.6" stroke="#333" stroke-width="0.8"/>
<line x1="230.82" y1="353.6" x2="230.82" y2="355.6" stroke="#333" stroke-width="0.8"/>
<line x1="235.39" y1="353.6" x2="235.39" y2="355.6" stroke="#333" stroke-width="0.8"/>
<line x1="239.25" y1="353.6" x2="239.25" y2="355.6" stroke="#333" stroke-width="0.8"/>
<line x1="242.60" y1="353.6" x2="242.60" y2="355.6" stroke="#333" stroke-width="0.8"/>
<line x1="245.56" y1="353.6" x2="245.56" y2="355.6" stroke="#333" stroke-width="0.8"/>
<line x1="248.2" y1="353.6" x2="248.2" y2="357.6" stroke="#333" stroke-width="0.8"/>
<text transform="translate(12.00,353.40) rotate(-90)" text-anchor="middle" font-size="5.0" font-weight="bold" textLength="3.35" lengthAdjust="spacingAndGlyphs" font-family="'Liberation Sans', sans-serif" fill="#000">0</text>
<text transform="translate(12.00,328.78) rotate(-90)" text-anchor="middle" font-size="5.0" font-weight="bold" textLength="6.70" lengthAdjust="spacingAndGlyphs" font-family="'Liberation Sans', sans-serif" fill="#000">20</text>
<text transform="translate(12.00,304.16) rotate(-90)" text-anchor="middle" font-size="5.0" font-weight="bold" textLength="6.70" lengthAdjust="spacingAndGlyphs" font-family="'Liberation Sans', sans-serif" fill="#000">40</text>
<text transform="translate(12.00,279.54) rotate(-90)" text-anchor="middle" font-size="5.0" font-weight="bold" textLength="6.70" lengthAdjust="spacingAndGlyphs" font-family="'Liberation Sans', sans-serif" fill="#000">60</text>
<text transform="translate(12.00,254.92) rotate(-90)" text-anchor="middle" font-size="5.0" font-weight="bold" textLength="6.70" lengthAdjust="spacingAndGlyphs" font-family="'Liberation Sans', sans-serif" fill="#000">80</text>
<text transform="translate(12.00,230.30) rotate(-90)" text-anchor="middle" font-size="5.0" font-weight="bold" textLength="10.05" lengthAdjust="spacingAndGlyphs" font-family="'Liberation Sans', sans-serif" fill="#000">100</text>
<text transform="translate(5.60,293.60) rotate(-90)" text-anchor="middle" font-size="5.4" font-weight="bold" textLength="20.6" lengthAdjust="spacingAndGlyphs" font-family="'Liberation Sans', sans-serif" fill="#000">Counts</text>
<text x="12.30" y="364.7" font-size="6.3" font-weight="bold" textLength="5.4" lengthAdjust="spacingAndGlyphs" font-family="'Liberation Sans', sans-serif" fill="#2a2a2a">10</text>
<text x="18.10" y="360.8" font-size="6.2" font-family="'Liberation Sans', sans-serif" fill="#2a2a2a">0</text>
<text x="70.05" y="364.7" font-size="6.3" font-weight="bold" textLength="5.4" lengthAdjust="spacingAndGlyphs" font-family="'Liberation Sans', sans-serif" fill="#2a2a2a">10</text>
<text x="75.85" y="360.8" font-size="6.2" font-family="'Liberation Sans', sans-serif" fill="#2a2a2a">1</text>
<text x="127.80" y="364.7" font-size="6.3" font-weight="bold" textLength="5.4" lengthAdjust="spacingAndGlyphs" font-family="'Liberation Sans', sans-serif" fill="#2a2a2a">10</text>
<text x="133.60" y="360.8" font-size="6.2" font-family="'Liberation Sans', sans-serif" fill="#2a2a2a">2</text>
<text x="185.55" y="364.7" font-size="6.3" font-weight="bold" textLength="5.4" lengthAdjust="spacingAndGlyphs" font-family="'Liberation Sans', sans-serif" fill="#2a2a2a">10</text>
<text x="191.35" y="360.8" font-size="6.2" font-family="'Liberation Sans', sans-serif" fill="#2a2a2a">3</text>
<text x="243.30" y="364.7" font-size="6.3" font-weight="bold" textLength="5.4" lengthAdjust="spacingAndGlyphs" font-family="'Liberation Sans', sans-serif" fill="#2a2a2a">10</text>
<text x="249.10" y="360.8" font-size="6.2" font-family="'Liberation Sans', sans-serif" fill="#2a2a2a">4</text>
<text x="124.00" y="371.3" font-size="6.5" font-weight="bold" textLength="15.4" lengthAdjust="spacingAndGlyphs" font-family="'Liberation Sans', sans-serif" fill="#1a1a1a">FL1-H</text>
<line x1="164.60" y1="243.30" x2="191.60" y2="243.30" stroke="#5014a8" stroke-width="2"/>
<text x="198.00" y="245.30" font-size="9.55" font-weight="bold" font-family="'Liberation Sans', sans-serif" fill="#000">Control</text>
<line x1="164.60" y1="259.20" x2="191.60" y2="259.20" stroke="#30dc30" stroke-width="2"/>
<text x="198.00" y="261.80" font-size="9.55" font-weight="bold" font-family="'Liberation Sans', sans-serif" fill="#000">Untreated</text>
<line x1="164.60" y1="275.10" x2="191.60" y2="275.10" stroke="#a82a98" stroke-width="2"/>
<text x="198.00" y="278.30" font-size="9.55" font-weight="bold" font-family="'Liberation Sans', sans-serif" fill="#000">Imatinib</text>
<line x1="164.60" y1="291.00" x2="191.60" y2="291.00" stroke="#2aa6dc" stroke-width="2"/>
<text x="198.00" y="294.80" font-size="9.55" font-weight="bold" font-family="'Liberation Sans', sans-serif" fill="#000">Dasatinib</text>
<path d="M282.70,351.45 L283.20,352.03 L283.70,353.04 L284.20,351.69 L284.70,351.89 L285.20,352.71 L285.70,352.84 L286.20,352.15 L286.70,352.93 L287.20,352.70 L287.70,352.13 L288.20,351.42 L288.70,351.93 L289.20,352.08 L289.70,351.14 L290.20,351.17 L290.70,352.87 L291.20,351.35 L291.70,352.71 L292.20,351.39 L292.70,352.50 L293.20,352.61 L293.70,352.79 L294.20,352.49 L294.70,351.59 L295.20,351.01 L295.70,351.71 L296.20,351.09 L296.70,351.61 L297.20,351.88 L297.70,351.29 L298.20,352.02 L298.70,352.66 L299.20,351.90 L299.70,351.90 L300.20,352.18 L300.70,350.93 L301.20,352.33 L301.70,351.04 L302.20,351.82 L302.70,352.36 L303.20,350.84 L303.70,352.19 L304.20,352.43 L304.70,351.29 L305.20,352.53 L305.70,352.60 L306.20,351.07 L306.70,352.22 L307.20,352.38 L307.70,351.24 L308.20,352.27 L308.70,351.32 L309.20,352.04 L309.70,351.68 L310.20,351.07 L310.70,352.33 L311.20,352.14 L311.70,352.13 L312.20,352.46 L312.70,351.51 L313.20,352.47 L313.70,351.74 L314.20,352.53 L314.70,351.03 L315.20,350.94 L315.70,352.00 L316.20,351.00 L316.70,352.21 L317.20,351.98 L317.70,351.85 L318.20,352.37 L318.70,351.29 L319.20,352.36 L319.70,352.59 L320.20,351.10 L320.70,352.03 L321.20,351.07 L321.70,351.78 L322.20,352.22 L322.70,351.45 L323.20,352.18 L323.70,351.42 L324.20,351.21 L324.70,352.57 L325.20,351.40 L325.70,352.01 L326.20,352.05 L326.70,350.74 L327.20,352.16 L327.70,352.16 L328.20,352.40 L328.70,350.83 L329.20,351.23 L329.70,352.47 L330.20,352.10 L330.70,350.67 L331.20,352.03 L331.70,351.26 L332.20,350.67 L332.70,350.77 L333.20,351.03 L333.70,352.35 L334.20,351.72 L334.70,351.57 L335.20,351.89 L335.70,351.87 L336.20,350.94 L336.70,352.55 L337.20,350.74 L337.70,351.07 L338.20,352.30 L338.70,350.84 L339.20,351.65 L339.70,352.18 L340.20,350.98 L340.70,352.21 L341.20,351.52 L341.70,351.44 L342.20,351.72 L342.70,351.17 L343.20,351.31 L343.70,352.56 L344.20,352.27 L344.70,351.33 L345.20,352.25 L345.70,351.72 L346.20,352.19 L346.70,351.31 L347.20,351.50 L347.70,351.49 L348.20,351.48 L348.70,352.64 L349.20,352.00 L349.70,351.48 L350.20,351.31 L350.70,351.44 L351.20,351.55 L351.70,352.65 L352.20,351.56 L352.70,351.89 L353.20,352.04 L353.70,352.02 L354.20,352.60 L354.70,350.98 L355.20,351.42 L355.70,351.02 L356.20,351.11 L356.70,352.40 L357.20,352.39 L357.70,351.75 L358.20,351.99 L358.70,351.85 L359.20,352.71 L359.70,351.05 L360.20,351.34 L360.70,350.96 L361.20,351.00 L361.70,351.40 L362.20,351.31 L362.70,352.09 L363.20,351.51 L363.70,351.45 L364.20,351.87 L364.70,352.17 L365.20,352.48 L365.70,352.33 L366.20,351.91 L366.70,352.52 L367.20,352.22 L367.70,352.37 L368.20,351.63 L368.70,351.60 L369.20,352.86 L369.70,351.24 L370.20,352.04 L370.70,351.30 L371.20,351.62 L371.70,352.67 L372.20,351.45 L372.70,352.29 L373.20,351.21 L373.70,351.87 L374.20,351.03 L374.70,350.65 L375.20,350.62 L375.70,350.57 L376.20,349.21 L376.70,350.80 L377.20,350.33 L377.70,349.75 L378.20,348.82 L378.70,349.04 L379.20,347.47 L379.70,346.16 L380.20,346.74 L380.70,345.84 L381.20,347.17 L381.70,344.53 L382.20,344.73 L382.70,343.58 L383.20,345.29 L383.70,343.84 L384.20,342.81 L384.70,342.51 L385.20,341.62 L385.70,340.56 L386.20,339.45 L386.70,337.96 L387.20,339.52 L387.70,339.08 L388.20,337.02 L388.70,336.60 L389.20,338.57 L389.70,335.10 L390.20,337.33 L390.70,334.86 L391.20,335.95 L391.70,336.75 L392.20,336.32 L392.70,332.93 L393.20,335.43 L393.70,331.77 L394.20,333.56 L394.70,330.29 L395.20,331.80 L395.70,329.21 L396.20,330.33 L396.70,331.37 L397.20,326.55 L397.70,330.31 L398.20,327.58 L398.70,327.80 L399.20,326.40 L399.70,323.90 L400.20,326.45 L400.70,325.58 L401.20,323.81 L401.70,316.20 L402.20,317.99 L402.70,310.10 L403.20,311.84 L403.70,312.70 L404.20,317.02 L404.70,313.50 L405.20,312.96 L405.70,317.36 L406.20,320.32 L406.70,309.89 L407.20,305.78 L407.70,306.95 L408.20,310.28 L408.70,312.16 L409.20,317.03 L409.70,314.51 L410.20,314.43 L410.70,308.81 L411.20,305.68 L411.70,311.53 L412.20,315.08 L412.70,311.29 L413.20,306.69 L413.70,304.73 L414.20,310.44 L414.70,311.02 L415.20,317.11 L415.70,317.17 L416.20,318.24 L416.70,318.08 L417.20,319.03 L417.70,321.31 L418.20,320.98 L418.70,324.61 L419.20,325.94 L419.70,323.98 L420.20,326.65 L420.70,324.27 L421.20,326.08 L421.70,327.61 L422.20,329.11 L422.70,331.67 L423.20,331.84 L423.70,331.41 L424.20,330.95 L424.70,334.52 L425.20,336.85 L425.70,337.85 L426.20,337.46 L426.70,336.92 L427.20,338.43 L427.70,338.43 L428.20,340.77 L428.70,340.95 L429.20,341.87 L429.70,340.83 L430.20,343.20 L430.70,341.42 L431.20,342.05 L431.70,345.23 L432.20,344.25 L432.70,344.12 L433.20,344.20 L433.70,345.54 L434.20,348.14 L434.70,347.27 L435.20,346.91 L435.70,350.08 L436.20,350.79 L436.70,349.81 L437.20,350.93 L437.70,351.32 L438.20,349.89 L438.70,351.04 L439.20,350.67 L439.70,351.51 L440.20,351.74 L440.70,351.61 L441.20,352.60 L441.70,352.67 L442.20,352.42 L442.70,352.78 L443.20,353.01 L443.70,353.06 L444.20,353.50 L444.70,353.50 L445.20,353.39 L445.70,353.50 L446.20,353.21 L446.70,353.50 L447.20,353.46 L447.70,353.50 L448.20,353.48 L448.70,353.14 L449.20,353.50 L449.70,353.34 L450.20,353.50 L450.70,353.50 L451.20,352.94 L451.70,353.00 L452.20,353.38 L452.70,353.38 L453.20,353.50 L453.70,352.96 L454.20,353.50 L454.70,353.50 L455.20,353.43 L455.70,353.41 L456.20,353.23 L456.70,353.05 L457.20,353.14 L457.70,352.94 L458.20,352.72 L458.70,353.50 L459.20,353.37 L459.70,352.92 L460.20,353.21 L460.70,353.13 L461.20,353.50 L461.70,353.05 L462.20,353.15 L462.70,352.86 L463.20,352.94 L463.70,352.76 L464.20,353.50 L464.70,353.50 L465.20,353.26 L465.70,353.10 L466.20,353.50 L466.70,352.96 L467.20,353.35 L467.70,353.34 L468.20,352.99 L468.70,353.27 L469.20,352.69 L469.70,353.06 L470.20,353.10 L470.70,353.14 L471.20,353.11 L471.70,352.97 L472.20,353.31 L472.70,353.36 L473.20,353.30 L473.70,353.21 L474.20,352.70 L474.70,353.50 L475.20,353.26 L475.70,352.84 L476.20,353.50 L476.70,353.50 L477.20,353.18 L477.70,353.50 L478.20,353.39 L478.70,353.30 L479.20,353.50 L479.70,352.90 L480.20,352.94 L480.70,353.50 L481.20,353.09 L481.70,353.50 L482.20,353.13 L482.70,352.82 L483.20,353.50 L483.70,352.71 L484.20,353.44 L484.70,353.04 L485.20,353.50 L485.70,353.33 L486.20,353.50 L486.70,352.69 L487.20,352.86 L487.70,352.89 L488.20,353.41 L488.70,353.50 L489.20,353.50 L489.70,353.50 L490.20,353.50 L490.70,353.28 L491.20,353.47 L491.70,353.50 L492.20,353.50 L492.70,353.06 L493.20,353.50 L493.70,353.50 L494.20,352.87 L494.70,353.45 L495.20,352.75 L495.70,353.50 L496.20,353.01 L496.70,352.85 L497.20,353.02 L497.70,353.50 L498.20,353.42 L498.70,352.73 L499.20,352.73 L499.70,353.24 L500.20,353.39 L500.70,352.75 L501.20,353.50 L501.70,353.06 L502.20,353.05 L502.70,353.39 L503.20,352.70 L503.70,352.88 L504.20,353.40 L504.70,353.50 L505.20,353.09 L505.70,353.15 L506.20,352.73 L506.70,352.76 L507.20,352.97 L507.70,352.84 L508.20,353.50 L508.70,353.01 L509.20,353.50 L509.70,352.90 L510.20,352.76 L510.70,353.28 L511.20,353.19 L511.70,353.47 L512.20,352.85 L512.70,353.22" fill="none" stroke="#30dc30" stroke-width="2.3" stroke-linejoin="round"/>
<path d="M282.70,353.50 L283.20,353.47 L283.70,353.41 L284.20,353.28 L284.70,353.50 L285.20,352.79 L285.70,353.01 L286.20,353.43 L286.70,352.83 L287.20,353.48 L287.70,353.11 L288.20,353.50 L288.70,352.99 L289.20,353.50 L289.70,353.50 L290.20,353.00 L290.70,352.97 L291.20,352.67 L291.70,353.01 L292.20,352.97 L292.70,353.33 L293.20,353.50 L293.70,353.02 L294.20,353.50 L294.70,353.11 L295.20,353.09 L295.70,352.94 L296.20,353.50 L296.70,353.50 L297.20,352.93 L297.70,353.50 L298.20,353.50 L298.70,353.50 L299.20,353.15 L299.70,352.78 L300.20,353.50 L300.70,353.21 L301.20,353.10 L301.70,353.50 L302.20,352.63 L302.70,352.70 L303.20,352.76 L303.70,353.50 L304.20,352.96 L304.70,352.99 L305.20,353.39 L305.70,352.59 L306.20,352.13 L306.70,352.44 L307.20,352.04 L307.70,353.13 L308.20,353.24 L308.70,352.48 L309.20,351.77 L309.70,351.82 L310.20,351.84 L310.70,351.91 L311.20,352.49 L311.70,351.50 L312.20,352.28 L312.70,352.10 L313.20,351.64 L313.70,351.72 L314.20,352.56 L314.70,352.58 L315.20,351.59 L315.70,352.11 L316.20,352.84 L316.70,352.11 L317.20,352.63 L317.70,352.87 L318.20,351.85 L318.70,351.15 L319.20,350.84 L319.70,352.06 L320.20,352.78 L320.70,352.01 L321.20,351.40 L321.70,350.84 L322.20,352.29 L322.70,350.80 L323.20,351.95 L323.70,352.20 L324.20,351.80 L324.70,352.36 L325.20,350.67 L325.70,350.70 L326.20,352.61 L326.70,351.55 L327.20,351.02 L327.70,352.06 L328.20,352.28 L328.70,351.08 L329.20,350.77 L329.70,350.77 L330.20,351.74 L330.70,352.26 L331.20,350.79 L331.70,351.42 L332.20,350.49 L332.70,350.74 L333.20,351.10 L333.70,351.24 L334.20,350.21 L334.70,352.10 L335.20,352.01 L335.70,351.45 L336.20,351.76 L336.70,350.42 L337.20,349.36 L337.70,348.93 L338.20,349.37 L338.70,348.65 L339.20,349.10 L339.70,348.47 L340.20,348.49 L340.70,347.82 L341.20,348.64 L341.70,347.80 L342.20,348.36 L342.70,347.31 L343.20,348.56 L343.70,346.36 L344.20,348.80 L344.70,346.60 L345.20,347.93 L345.70,348.16 L346.20,345.19 L346.70,345.25 L347.20,346.30 L347.70,347.05 L348.20,345.08 L348.70,347.18 L349.20,345.20 L349.70,345.59 L350.20,345.97 L350.70,344.24 L351.20,344.10 L351.70,343.41 L352.20,342.90 L352.70,343.59 L353.20,343.71 L353.70,343.78 L354.20,341.71 L354.70,340.28 L355.20,341.13 L355.70,339.34 L356.20,339.75 L356.70,339.51 L357.20,337.56 L357.70,339.61 L358.20,338.10 L358.70,335.05 L359.20,333.84 L359.70,333.19 L360.20,337.11 L360.70,332.69 L361.20,330.70 L361.70,331.67 L362.20,331.26 L362.70,331.68 L363.20,328.54 L363.70,330.94 L364.20,330.47 L364.70,326.42 L365.20,325.49 L365.70,321.35 L366.20,320.59 L366.70,320.34 L367.20,322.11 L367.70,317.25 L368.20,317.61 L368.70,312.64 L369.20,316.41 L369.70,314.61 L370.20,312.75 L370.70,312.01 L371.20,311.13 L371.70,311.02 L372.20,314.32 L372.70,309.00 L373.20,308.36 L373.70,309.76 L374.20,310.28 L374.70,305.47 L375.20,307.23 L375.70,308.87 L376.20,307.01 L376.70,302.80 L377.20,302.33 L377.70,305.11 L378.20,301.37 L378.70,308.56 L379.20,302.79 L379.70,306.19 L380.20,306.80 L380.70,301.77 L381.20,302.54 L381.70,306.68 L382.20,306.73 L382.70,306.06 L383.20,308.38 L383.70,312.42 L384.20,313.58 L384.70,314.27 L385.20,314.47 L385.70,318.29 L386.20,314.79 L386.70,319.85 L387.20,319.74 L387.70,324.99 L388.20,323.41 L388.70,324.50 L389.20,326.74 L389.70,326.57 L390.20,328.93 L390.70,332.46 L391.20,333.45 L391.70,331.93 L392.20,332.93 L392.70,336.99 L393.20,335.16 L393.70,337.05 L394.20,336.23 L394.70,339.32 L395.20,336.75 L395.70,339.23 L396.20,340.72 L396.70,339.06 L397.20,340.26 L397.70,338.72 L398.20,340.56 L398.70,342.07 L399.20,341.87 L399.70,344.07 L400.20,342.69 L400.70,343.35 L401.20,344.06 L401.70,345.04 L402.20,344.89 L402.70,346.57 L403.20,346.04 L403.70,345.40 L404.20,348.78 L404.70,347.36 L405.20,347.93 L405.70,348.61 L406.20,347.87 L406.70,347.77 L407.20,347.99 L407.70,348.19 L408.20,348.46 L408.70,348.53 L409.20,349.75 L409.70,349.26 L410.20,351.45 L410.70,349.36 L411.20,350.93 L411.70,350.89 L412.20,350.49 L412.70,351.10 L413.20,352.36 L413.70,352.58 L414.20,351.25 L414.70,352.84 L415.20,352.08 L415.70,352.25 L416.20,351.98 L416.70,352.46 L417.20,353.26 L417.70,352.87 L418.20,353.07 L418.70,353.21 L419.20,353.50 L419.70,353.39 L420.20,352.79 L420.70,353.50 L421.20,352.99 L421.70,352.90 L422.20,353.50 L422.70,352.86 L423.20,353.50 L423.70,353.50 L424.20,353.43 L424.70,353.22 L425.20,353.33 L425.70,353.50 L426.20,353.50 L426.70,353.50 L427.20,353.50 L427.70,353.50 L428.20,352.83 L428.70,352.92 L429.20,353.33 L429.70,353.50 L430.20,353.26 L430.70,353.50 L431.20,353.50 L431.70,353.23 L432.20,353.50 L432.70,353.31 L433.20,353.18 L433.70,352.82 L434.20,352.88 L434.70,352.97 L435.20,353.45 L435.70,352.83 L436.20,353.33 L436.70,353.50 L437.20,352.82 L437.70,352.70 L438.20,353.50 L438.70,353.28 L439.20,353.42 L439.70,352.97 L440.20,353.50 L440.70,353.50 L441.20,353.50 L441.70,353.50 L442.20,353.50 L442.70,353.48 L443.20,352.66 L443.70,352.94 L444.20,353.47 L444.70,352.68 L445.20,353.10 L445.70,353.19 L446.20,353.09 L446.70,353.50 L447.20,353.43 L447.70,353.32 L448.20,353.50 L448.70,352.96 L449.20,353.50 L449.70,353.32 L450.20,353.50 L450.70,353.50 L451.20,352.63 L451.70,353.15 L452.20,353.40 L452.70,353.50 L453.20,352.88 L453.70,353.50 L454.20,353.21 L454.70,353.50 L455.20,353.13 L455.70,353.50 L456.20,353.50 L456.70,352.90 L457.20,352.89 L457.70,353.50 L458.20,353.50 L458.70,352.96 L459.20,353.50 L459.70,353.50 L460.20,353.50 L460.70,353.50 L461.20,352.73 L461.70,353.50 L462.20,353.25 L462.70,352.82 L463.20,353.50 L463.70,352.67 L464.20,352.72 L464.70,353.50 L465.20,352.92 L465.70,353.40 L466.20,353.09 L466.70,353.07 L467.20,353.50 L467.70,353.15 L468.20,353.45 L468.70,353.43 L469.20,353.50 L469.70,353.50 L470.20,353.16 L470.70,353.50 L471.20,353.41 L471.70,353.50 L472.20,353.00 L472.70,353.11 L473.20,353.03 L473.70,353.50 L474.20,352.76 L474.70,353.50 L475.20,353.50 L475.70,353.23 L476.20,353.06 L476.70,353.47 L477.20,352.83 L477.70,353.50 L478.20,353.20 L478.70,353.50 L479.20,353.46 L479.70,353.50 L480.20,353.50 L480.70,353.02 L481.20,353.06 L481.70,352.67 L482.20,353.50 L482.70,353.50 L483.20,353.21 L483.70,353.14 L484.20,353.19 L484.70,352.90 L485.20,352.77 L485.70,352.89 L486.20,353.46 L486.70,353.45 L487.20,353.50 L487.70,353.07 L488.20,352.98 L488.70,353.08 L489.20,353.36 L489.70,353.49 L490.20,352.77 L490.70,352.80 L491.20,353.50 L491.70,353.14 L492.20,353.02 L492.70,353.33 L493.20,353.18 L493.70,353.50 L494.20,352.83 L494.70,353.44 L495.20,353.50 L495.70,353.49 L496.20,353.06 L496.70,353.50 L497.20,353.50 L497.70,353.21 L498.20,353.50 L498.70,352.76 L499.20,352.92 L499.70,353.10 L500.20,352.90 L500.70,353.50 L501.20,353.50 L501.70,352.96 L502.20,353.21 L502.70,353.50 L503.20,353.50 L503.70,353.27 L504.20,353.17 L504.70,353.06 L505.20,352.64 L505.70,352.65 L506.20,353.04 L506.70,352.65 L507.20,353.50 L507.70,352.84 L508.20,352.78 L508.70,353.50 L509.20,352.72 L509.70,352.96 L510.20,352.94 L510.70,353.50 L511.20,353.50 L511.70,352.90 L512.20,352.78 L512.70,353.05" fill="none" stroke="#2aa6dc" stroke-width="1.0" stroke-linejoin="round"/>
<path d="M282.70,353.50 L283.20,352.93 L283.70,353.50 L284.20,353.03 L284.70,353.50 L285.20,353.10 L285.70,353.44 L286.20,353.45 L286.70,352.63 L287.20,353.50 L287.70,352.83 L288.20,353.31 L288.70,353.50 L289.20,353.48 L289.70,353.50 L290.20,353.02 L290.70,353.29 L291.20,352.88 L291.70,353.29 L292.20,352.82 L292.70,353.50 L293.20,353.00 L293.70,353.44 L294.20,353.35 L294.70,353.20 L295.20,353.50 L295.70,353.49 L296.20,353.50 L296.70,352.87 L297.20,352.84 L297.70,352.70 L298.20,353.50 L298.70,353.43 L299.20,352.74 L299.70,353.25 L300.20,353.31 L300.70,353.22 L301.20,353.39 L301.70,353.50 L302.20,352.95 L302.70,353.31 L303.20,353.47 L303.70,353.50 L304.20,352.87 L304.70,353.01 L305.20,353.29 L305.70,353.13 L306.20,353.28 L306.70,352.91 L307.20,352.31 L307.70,352.90 L308.20,352.71 L308.70,352.99 L309.20,352.53 L309.70,352.70 L310.20,352.98 L310.70,352.13 L311.20,352.22 L311.70,351.67 L312.20,352.24 L312.70,351.74 L313.20,352.53 L313.70,351.65 L314.20,351.93 L314.70,352.04 L315.20,353.03 L315.70,351.70 L316.20,352.10 L316.70,352.24 L317.20,352.39 L317.70,352.87 L318.20,352.12 L318.70,350.89 L319.20,351.31 L319.70,351.13 L320.20,352.30 L320.70,352.75 L321.20,351.66 L321.70,351.86 L322.20,351.18 L322.70,352.07 L323.20,351.09 L323.70,351.96 L324.20,351.18 L324.70,351.78 L325.20,352.44 L325.70,352.49 L326.20,352.02 L326.70,350.79 L327.20,351.59 L327.70,351.29 L328.20,351.42 L328.70,352.03 L329.20,352.43 L329.70,350.68 L330.20,351.32 L330.70,352.34 L331.20,351.15 L331.70,351.08 L332.20,350.36 L332.70,350.11 L333.20,351.34 L333.70,350.42 L334.20,351.67 L334.70,351.72 L335.20,350.75 L335.70,349.56 L336.20,351.09 L336.70,349.61 L337.20,349.32 L337.70,348.39 L338.20,348.20 L338.70,348.11 L339.20,348.59 L339.70,347.17 L340.20,347.41 L340.70,348.27 L341.20,345.08 L341.70,345.25 L342.20,347.91 L342.70,345.37 L343.20,344.63 L343.70,347.02 L344.20,347.10 L344.70,343.86 L345.20,346.90 L345.70,345.32 L346.20,344.44 L346.70,345.81 L347.20,346.43 L347.70,345.60 L348.20,345.35 L348.70,343.52 L349.20,344.56 L349.70,342.62 L350.20,342.94 L350.70,345.00 L351.20,344.68 L351.70,344.23 L352.20,341.26 L352.70,341.09 L353.20,342.35 L353.70,339.80 L354.20,338.41 L354.70,339.17 L355.20,338.54 L355.70,340.11 L356.20,336.56 L356.70,333.77 L357.20,334.01 L357.70,335.22 L358.20,334.38 L358.70,331.97 L359.20,329.45 L359.70,330.69 L360.20,326.81 L360.70,325.31 L361.20,324.26 L361.70,324.72 L362.20,326.80 L362.70,325.68 L363.20,319.61 L363.70,323.05 L364.20,319.75 L364.70,317.24 L365.20,317.73 L365.70,313.63 L366.20,312.41 L366.70,314.95 L367.20,315.94 L367.70,309.66 L368.20,311.05 L368.70,309.44 L369.20,305.01 L369.70,311.08 L370.20,310.61 L370.70,308.94 L371.20,303.49 L371.70,307.61 L372.20,303.24 L372.70,303.36 L373.20,307.22 L373.70,303.03 L374.20,303.20 L374.70,302.42 L375.20,305.43 L375.70,299.66 L376.20,296.44 L376.70,296.17 L377.20,299.20 L377.70,302.10 L378.20,304.59 L378.70,304.57 L379.20,306.46 L379.70,301.64 L380.20,300.40 L380.70,294.62 L381.20,296.75 L381.70,299.23 L382.20,296.61 L382.70,299.90 L383.20,308.53 L383.70,307.91 L384.20,305.62 L384.70,311.99 L385.20,308.64 L385.70,314.57 L386.20,312.35 L386.70,313.51 L387.20,316.67 L387.70,315.21 L388.20,319.41 L388.70,318.99 L389.20,320.48 L389.70,316.30 L390.20,315.39 L390.70,321.54 L391.20,317.80 L391.70,325.09 L392.20,325.23 L392.70,327.96 L393.20,327.93 L393.70,330.11 L394.20,335.52 L394.70,335.80 L395.20,336.85 L395.70,335.30 L396.20,336.02 L396.70,337.60 L397.20,339.23 L397.70,341.42 L398.20,340.35 L398.70,341.97 L399.20,342.05 L399.70,343.89 L400.20,342.64 L400.70,345.80 L401.20,343.22 L401.70,346.57 L402.20,347.70 L402.70,347.85 L403.20,348.43 L403.70,345.51 L404.20,346.14 L404.70,346.32 L405.20,348.66 L405.70,349.09 L406.20,349.77 L406.70,347.42 L407.20,348.74 L407.70,349.30 L408.20,349.95 L408.70,348.50 L409.20,348.62 L409.70,350.87 L410.20,349.81 L410.70,349.22 L411.20,351.20 L411.70,350.91 L412.20,350.55 L412.70,351.22 L413.20,350.64 L413.70,351.72 L414.20,351.97 L414.70,351.94 L415.20,351.54 L415.70,351.63 L416.20,353.34 L416.70,352.08 L417.20,353.45 L417.70,352.76 L418.20,353.44 L418.70,353.50 L419.20,353.50 L419.70,353.50 L420.20,353.50 L420.70,352.75 L421.20,353.11 L421.70,353.50 L422.20,353.50 L422.70,352.75 L423.20,352.74 L423.70,353.50 L424.20,353.21 L424.70,352.93 L425.20,353.50 L425.70,352.82 L426.20,353.26 L426.70,353.01 L427.20,353.39 L427.70,353.50 L428.20,352.97 L428.70,353.50 L429.20,352.70 L429.70,353.50 L430.20,353.21 L430.70,352.71 L431.20,353.50 L431.70,353.21 L432.20,353.44 L432.70,353.50 L433.20,353.43 L433.70,353.50 L434.20,353.50 L434.70,353.34 L435.20,353.50 L435.70,353.39 L436.20,353.37 L436.70,353.50 L437.20,353.50 L437.70,352.88 L438.20,353.50 L438.70,353.50 L439.20,353.00 L439.70,353.26 L440.20,352.79 L440.70,353.50 L441.20,353.35 L441.70,353.50 L442.20,353.50 L442.70,353.50 L443.20,352.71 L443.70,352.70 L444.20,353.26 L444.70,353.48 L445.20,353.45 L445.70,353.27 L446.20,352.84 L446.70,353.50 L447.20,353.50 L447.70,353.09 L448.20,353.39 L448.70,353.36 L449.20,353.10 L449.70,353.38 L450.20,352.80 L450.70,353.23 L451.20,353.50 L451.70,353.16 L452.20,353.50 L452.70,353.50 L453.20,353.50 L453.70,353.50 L454.20,353.50 L454.70,352.80 L455.20,352.83 L455.70,352.94 L456.20,353.50 L456.70,353.07 L457.20,353.36 L457.70,353.50 L458.20,353.05 L458.70,353.50 L459.20,352.67 L459.70,353.50 L460.20,353.50 L460.70,353.00 L461.20,352.67 L461.70,352.78 L462.20,353.50 L462.70,353.48 L463.20,352.64 L463.70,353.20 L464.20,353.50 L464.70,352.75 L465.20,352.92 L465.70,353.50 L466.20,352.86 L466.70,352.85 L467.20,353.50 L467.70,352.83 L468.20,353.50 L468.70,353.50 L469.20,353.50 L469.70,353.50 L470.20,353.40 L470.70,353.50 L471.20,353.01 L471.70,353.50 L472.20,353.50 L472.70,353.18 L473.20,352.93 L473.70,352.63 L474.20,353.50 L474.70,353.50 L475.20,353.07 L475.70,352.88 L476.20,353.50 L476.70,353.50 L477.20,353.01 L477.70,353.06 L478.20,353.18 L478.70,352.94 L479.20,352.63 L479.70,353.42 L480.20,353.15 L480.70,353.16 L481.20,353.13 L481.70,353.03 L482.20,353.50 L482.70,353.16 L483.20,353.50 L483.70,353.50 L484.20,353.50 L484.70,353.03 L485.20,353.24 L485.70,352.93 L486.20,353.50 L486.70,353.31 L487.20,353.49 L487.70,353.35 L488.20,353.50 L488.70,353.39 L489.20,353.50 L489.70,353.00 L490.20,353.50 L490.70,353.01 L491.20,352.89 L491.70,353.44 L492.20,352.76 L492.70,353.50 L493.20,353.50 L493.70,352.66 L494.20,352.69 L494.70,353.50 L495.20,353.50 L495.70,353.20 L496.20,353.23 L496.70,353.50 L497.20,353.50 L497.70,352.78 L498.20,353.50 L498.70,352.80 L499.20,353.50 L499.70,353.34 L500.20,353.50 L500.70,353.50 L501.20,352.81 L501.70,353.50 L502.20,353.50 L502.70,353.12 L503.20,352.89 L503.70,353.27 L504.20,353.04 L504.70,353.17 L505.20,353.25 L505.70,353.36 L506.20,353.49 L506.70,353.10 L507.20,352.68 L507.70,353.50 L508.20,353.50 L508.70,352.85 L509.20,353.50 L509.70,353.08 L510.20,353.50 L510.70,353.19 L511.20,353.50 L511.70,353.20 L512.20,353.50 L512.70,352.90" fill="none" stroke="#a82a98" stroke-width="1.0" stroke-linejoin="round"/>
<path d="M282.70,286.47 L283.20,288.79 L283.70,346.51 L284.20,349.07 L284.70,348.65 L285.20,347.76 L285.70,344.16 L286.20,342.46 L286.70,340.46 L287.20,339.51 L287.70,337.81 L288.20,339.22 L288.70,336.94 L289.20,337.66 L289.70,336.19 L290.20,333.03 L290.70,330.77 L291.20,330.07 L291.70,327.16 L292.20,328.11 L292.70,323.94 L293.20,321.71 L293.70,323.46 L294.20,319.17 L294.70,319.34 L295.20,317.04 L295.70,312.74 L296.20,307.77 L296.70,304.01 L297.20,300.63 L297.70,299.83 L298.20,296.42 L298.70,293.04 L299.20,289.06 L299.70,289.16 L300.20,287.96 L300.70,285.21 L301.20,285.95 L301.70,285.77 L302.20,286.11 L302.70,287.06 L303.20,288.56 L303.70,291.02 L304.20,285.66 L304.70,282.74 L305.20,285.23 L305.70,286.27 L306.20,291.17 L306.70,293.41 L307.20,295.13 L307.70,295.69 L308.20,301.89 L308.70,302.64 L309.20,304.09 L309.70,306.02 L310.20,308.38 L310.70,304.93 L311.20,306.96 L311.70,309.72 L312.20,313.05 L312.70,314.17 L313.20,316.03 L313.70,316.21 L314.20,317.14 L314.70,319.26 L315.20,318.64 L315.70,314.75 L316.20,316.49 L316.70,317.43 L317.20,323.79 L317.70,327.68 L318.20,331.02 L318.70,330.96 L319.20,333.24 L319.70,336.33 L320.20,335.40 L320.70,337.04 L321.20,336.95 L321.70,338.35 L322.20,340.50 L322.70,339.88 L323.20,342.31 L323.70,341.11 L324.20,342.03 L324.70,343.42 L325.20,343.50 L325.70,344.54 L326.20,343.85 L326.70,343.53 L327.20,345.27 L327.70,344.60 L328.20,345.52 L328.70,346.89 L329.20,347.51 L329.70,348.47 L330.20,348.21 L330.70,348.25 L331.20,348.09 L331.70,348.79 L332.20,348.64 L332.70,348.47 L333.20,349.74 L333.70,350.21 L334.20,349.75 L334.70,350.95 L335.20,350.75 L335.70,350.55 L336.20,351.89 L336.70,350.52 L337.20,351.21 L337.70,351.52 L338.20,352.35 L338.70,351.83 L339.20,353.23 L339.70,352.05 L340.20,352.78 L340.70,353.02 L341.20,353.50 L341.70,353.00 L342.20,352.89 L342.70,353.50 L343.20,353.50 L343.70,353.39 L344.20,353.50 L344.70,353.17 L345.20,353.24 L345.70,353.30 L346.20,352.85 L346.70,353.50 L347.20,352.77 L347.70,352.79 L348.20,353.50 L348.70,353.24 L349.20,352.87 L349.70,353.50 L350.20,352.92 L350.70,353.24 L351.20,352.71 L351.70,352.87 L352.20,353.28 L352.70,353.50 L353.20,352.85 L353.70,353.50 L354.20,353.48 L354.70,353.50 L355.20,353.50 L355.70,353.28 L356.20,352.70 L356.70,352.76 L357.20,353.50 L357.70,352.82 L358.20,353.02 L358.70,353.49 L359.20,353.50 L359.70,353.50 L360.20,353.37 L360.70,353.09 L361.20,353.50 L361.70,352.71 L362.20,353.00 L362.70,353.50 L363.20,352.92 L363.70,353.50 L364.20,353.42 L364.70,353.46 L365.20,353.46 L365.70,353.24 L366.20,353.50 L366.70,352.76 L367.20,353.04 L367.70,353.50 L368.20,353.50 L368.70,353.47 L369.20,353.50 L369.70,353.05 L370.20,353.42 L370.70,353.39 L371.20,353.50 L371.70,352.97 L372.20,353.04 L372.70,353.08 L373.20,352.94 L373.70,353.50 L374.20,353.29 L374.70,352.77 L375.20,353.50 L375.70,353.33 L376.20,353.50 L376.70,353.50 L377.20,353.18 L377.70,353.08 L378.20,353.36 L378.70,353.50 L379.20,353.50 L379.70,353.50 L380.20,353.39 L380.70,353.35 L381.20,353.06 L381.70,353.36 L382.20,353.37 L382.70,353.50 L383.20,353.50 L383.70,353.50 L384.20,353.00 L384.70,353.48 L385.20,352.77 L385.70,353.03 L386.20,353.43 L386.70,352.69 L387.20,353.50 L387.70,353.35 L388.20,352.98 L388.70,353.20 L389.20,353.50 L389.70,352.80 L390.20,353.50 L390.70,353.49 L391.20,353.34 L391.70,352.93 L392.20,353.45 L392.70,352.96 L393.20,352.78 L393.70,353.50 L394.20,353.12 L394.70,353.50 L395.20,353.28 L395.70,353.38 L396.20,353.16 L396.70,353.50 L397.20,353.50 L397.70,353.16 L398.20,353.37 L398.70,353.03 L399.20,353.50 L399.70,353.25 L400.20,353.42 L400.70,353.39 L401.20,352.81 L401.70,353.10 L402.20,353.50 L402.70,353.41 L403.20,352.99 L403.70,352.89 L404.20,353.50 L404.70,353.50 L405.20,353.50 L405.70,352.91 L406.20,353.36 L406.70,353.22 L407.20,353.21 L407.70,353.13 L408.20,353.47 L408.70,353.39 L409.20,352.78 L409.70,352.74 L410.20,352.91 L410.70,353.50 L411.20,353.50 L411.70,353.50 L412.20,353.14 L412.70,353.34 L413.20,353.47 L413.70,352.90 L414.20,353.50 L414.70,353.50 L415.20,352.73 L415.70,353.00 L416.20,353.03 L416.70,353.50 L417.20,353.50 L417.70,353.50 L418.20,353.21 L418.70,353.35 L419.20,352.93 L419.70,352.73 L420.20,353.47 L420.70,353.36 L421.20,353.50 L421.70,353.50 L422.20,353.35 L422.70,352.76 L423.20,353.39 L423.70,353.50 L424.20,353.27 L424.70,353.48 L425.20,353.32 L425.70,353.24 L426.20,353.20 L426.70,352.97 L427.20,353.24 L427.70,353.50 L428.20,353.50 L428.70,352.73 L429.20,352.96 L429.70,352.78 L430.20,352.80 L430.70,352.70 L431.20,353.50 L431.70,352.94 L432.20,353.50 L432.70,353.50 L433.20,352.88 L433.70,352.99 L434.20,352.83 L434.70,352.85 L435.20,353.50 L435.70,353.50 L436.20,353.50 L436.70,352.92 L437.20,353.21 L437.70,353.37 L438.20,352.77 L438.70,353.48 L439.20,353.50 L439.70,353.50 L440.20,353.50 L440.70,353.06 L441.20,353.50 L441.70,352.94 L442.20,353.25 L442.70,352.78 L443.20,352.81 L443.70,352.79 L444.20,353.13 L444.70,353.50 L445.20,353.37 L445.70,352.90 L446.20,353.04 L446.70,353.13 L447.20,352.83 L447.70,352.89 L448.20,353.50 L448.70,353.50 L449.20,353.50 L449.70,352.80 L450.20,353.31 L450.70,353.50 L451.20,353.50 L451.70,352.96 L452.20,353.15 L452.70,353.43 L453.20,352.88 L453.70,353.42 L454.20,352.78 L454.70,353.50 L455.20,352.96 L455.70,353.13 L456.20,353.50 L456.70,353.42 L457.20,353.50 L457.70,353.49 L458.20,353.01 L458.70,352.86 L459.20,353.50 L459.70,353.50 L460.20,352.93 L460.70,353.50 L461.20,353.15 L461.70,352.91 L462.20,352.88 L462.70,353.23 L463.20,353.50 L463.70,353.33 L464.20,353.06 L464.70,353.47 L465.20,352.72 L465.70,353.50 L466.20,353.50 L466.70,353.25 L467.20,352.77 L467.70,353.18 L468.20,353.50 L468.70,353.50 L469.20,353.50 L469.70,353.50 L470.20,353.50 L470.70,353.02 L471.20,353.50 L471.70,353.50 L472.20,353.50 L472.70,352.97 L473.20,353.48 L473.70,352.73 L474.20,352.98 L474.70,353.50 L475.20,352.87 L475.70,353.48 L476.20,352.93 L476.70,353.50 L477.20,353.50 L477.70,353.50 L478.20,353.41 L478.70,353.50 L479.20,352.88 L479.70,353.40 L480.20,352.82 L480.70,353.42 L481.20,353.50 L481.70,353.50 L482.20,353.50 L482.70,353.50 L483.20,353.50 L483.70,353.44 L484.20,353.50 L484.70,352.88 L485.20,353.00 L485.70,353.50 L486.20,353.50 L486.70,353.18 L487.20,353.26 L487.70,353.10 L488.20,353.50 L488.70,353.24 L489.20,353.09 L489.70,352.96 L490.20,353.25 L490.70,353.50 L491.20,352.99 L491.70,352.73 L492.20,353.13 L492.70,353.12 L493.20,353.50 L493.70,353.34 L494.20,353.38 L494.70,353.06 L495.20,353.18 L495.70,353.32 L496.20,353.29 L496.70,353.27 L497.20,353.50 L497.70,353.42 L498.20,353.12 L498.70,353.50 L499.20,352.87 L499.70,352.83 L500.20,353.16 L500.70,353.34 L501.20,353.45 L501.70,352.83 L502.20,353.48 L502.70,353.50 L503.20,352.99 L503.70,353.17 L504.20,353.31 L504.70,353.50 L505.20,353.50 L505.70,353.48 L506.20,353.38 L506.70,352.92 L507.20,353.33 L507.70,352.79 L508.20,352.73 L508.70,352.85 L509.20,353.50 L509.70,353.01 L510.20,352.88 L510.70,353.50 L511.20,353.22 L511.70,352.84 L512.20,353.48 L512.70,353.50" fill="none" stroke="#5014a8" stroke-width="2.1" stroke-linejoin="round"/>
<line x1="282.4" y1="230.5" x2="513.4" y2="230.5" stroke="#222" stroke-width="1.3"/>
<line x1="513.4" y1="230.5" x2="513.4" y2="353.6" stroke="#777" stroke-width="1.2"/>
<line x1="282.4" y1="230.5" x2="282.4" y2="353.6" stroke="#222" stroke-width="1.2"/>
<line x1="282.4" y1="353.6" x2="513.4" y2="353.6" stroke="#333" stroke-width="1.1"/>
<line x1="279.9" y1="353.60" x2="282.4" y2="353.60" stroke="#333" stroke-width="0.8"/>
<line x1="281.2" y1="348.68" x2="282.4" y2="348.68" stroke="#333" stroke-width="0.8"/>
<line x1="281.2" y1="343.75" x2="282.4" y2="343.75" stroke="#333" stroke-width="0.8"/>
<line x1="281.2" y1="338.83" x2="282.4" y2="338.83" stroke="#333" stroke-width="0.8"/>
<line x1="281.2" y1="333.90" x2="282.4" y2="333.90" stroke="#333" stroke-width="0.8"/>
<line x1="279.9" y1="328.98" x2="282.4" y2="328.98" stroke="#333" stroke-width="0.8"/>
<line x1="281.2" y1="324.06" x2="282.4" y2="324.06" stroke="#333" stroke-width="0.8"/>
<line x1="281.2" y1="319.13" x2="282.4" y2="319.13" stroke="#333" stroke-width="0.8"/>
<line x1="281.2" y1="314.21" x2="282.4" y2="314.21" stroke="#333" stroke-width="0.8"/>
<line x1="281.2" y1="309.28" x2="282.4" y2="309.28" stroke="#333" stroke-width="0.8"/>
<line x1="279.9" y1="304.36" x2="282.4" y2="304.36" stroke="#333" stroke-width="0.8"/>
<line x1="281.2" y1="299.44" x2="282.4" y2="299.44" stroke="#333" stroke-width="0.8"/>
<line x1="281.2" y1="294.51" x2="282.4" y2="294.51" stroke="#333" stroke-width="0.8"/>
<line x1="281.2" y1="289.59" x2="282.4" y2="289.59" stroke="#333" stroke-width="0.8"/>
<line x1="281.2" y1="284.66" x2="282.4" y2="284.66" stroke="#333" stroke-width="0.8"/>
<line x1="279.9" y1="279.74" x2="282.4" y2="279.74" stroke="#333" stroke-width="0.8"/>
<line x1="281.2" y1="274.82" x2="282.4" y2="274.82" stroke="#333" stroke-width="0.8"/>
<line x1="281.2" y1="269.89" x2="282.4" y2="269.89" stroke="#333" stroke-width="0.8"/>
<line x1="281.2" y1="264.97" x2="282.4" y2="264.97" stroke="#333" stroke-width="0.8"/>
<line x1="281.2" y1="260.04" x2="282.4" y2="260.04" stroke="#333" stroke-width="0.8"/>
<line x1="279.9" y1="255.12" x2="282.4" y2="255.12" stroke="#333" stroke-width="0.8"/>
<line x1="281.2" y1="250.20" x2="282.4" y2="250.20" stroke="#333" stroke-width="0.8"/>
<line x1="281.2" y1="245.27" x2="282.4" y2="245.27" stroke="#333" stroke-width="0.8"/>
<line x1="281.2" y1="240.35" x2="282.4" y2="240.35" stroke="#333" stroke-width="0.8"/>
<line x1="281.2" y1="235.42" x2="282.4" y2="235.42" stroke="#333" stroke-width="0.8"/>
<line x1="279.9" y1="230.50" x2="282.4" y2="230.50" stroke="#333" stroke-width="0.8"/>
<line x1="282.40" y1="353.6" x2="282.40" y2="357.6" stroke="#333" stroke-width="0.8"/>
<line x1="299.78" y1="353.6" x2="299.78" y2="355.6" stroke="#333" stroke-width="0.8"/>
<line x1="309.95" y1="353.6" x2="309.95" y2="355.6" stroke="#333" stroke-width="0.8"/>
<line x1="317.17" y1="353.6" x2="317.17" y2="355.6" stroke="#333" stroke-width="0.8"/>
<line x1="322.77" y1="353.6" x2="322.77" y2="355.6" stroke="#333" stroke-width="0.8"/>
<line x1="327.34" y1="353.6" x2="327.34" y2="355.6" stroke="#333" stroke-width="0.8"/>
<line x1="331.20" y1="353.6" x2="331.20" y2="355.6" stroke="#333" stroke-width="0.8"/>
<line x1="334.55" y1="353.6" x2="334.55" y2="355.6" stroke="#333" stroke-width="0.8"/>
<line x1="337.51" y1="353.6" x2="337.51" y2="355.6" stroke="#333" stroke-width="0.8"/>
<line x1="340.15" y1="353.6" x2="340.15" y2="357.6" stroke="#333" stroke-width="0.8"/>
<line x1="357.53" y1="353.6" x2="357.53" y2="355.6" stroke="#333" stroke-width="0.8"/>
<line x1="367.70" y1="353.6" x2="367.70" y2="355.6" stroke="#333" stroke-width="0.8"/>
<line x1="374.92" y1="353.6" x2="374.92" y2="355.6" stroke="#333" stroke-width="0.8"/>
<line x1="380.52" y1="353.6" x2="380.52" y2="355.6" stroke="#333" stroke-width="0.8"/>
<line x1="385.09" y1="353.6" x2="385.09" y2="355.6" stroke="#333" stroke-width="0.8"/>
<line x1="388.95" y1="353.6" x2="388.95" y2="355.6" stroke="#333" stroke-width="0.8"/>
<line x1="392.30" y1="353.6" x2="392.30" y2="355.6" stroke="#333" stroke-width="0.8"/>
<line x1="395.26" y1="353.6" x2="395.26" y2="355.6" stroke="#333" stroke-width="0.8"/>
<line x1="397.90" y1="353.6" x2="397.90" y2="357.6" stroke="#333" stroke-width="0.8"/>
<line x1="415.28" y1="353.6" x2="415.28" y2="355.6" stroke="#333" stroke-width="0.8"/>
<line x1="425.45" y1="353.6" x2="425.45" y2="355.6" stroke="#333" stroke-width="0.8"/>
<line x1="432.67" y1="353.6" x2="432.67" y2="355.6" stroke="#333" stroke-width="0.8"/>
<line x1="438.27" y1="353.6" x2="438.27" y2="355.6" stroke="#333" stroke-width="0.8"/>
<line x1="442.84" y1="353.6" x2="442.84" y2="355.6" stroke="#333" stroke-width="0.8"/>
<line x1="446.70" y1="353.6" x2="446.70" y2="355.6" stroke="#333" stroke-width="0.8"/>
<line x1="450.05" y1="353.6" x2="450.05" y2="355.6" stroke="#333" stroke-width="0.8"/>
<line x1="453.01" y1="353.6" x2="453.01" y2="355.6" stroke="#333" stroke-width="0.8"/>
<line x1="455.65" y1="353.6" x2="455.65" y2="357.6" stroke="#333" stroke-width="0.8"/>
<line x1="473.03" y1="353.6" x2="473.03" y2="355.6" stroke="#333" stroke-width="0.8"/>
<line x1="483.20" y1="353.6" x2="483.20" y2="355.6" stroke="#333" stroke-width="0.8"/>
<line x1="490.42" y1="353.6" x2="490.42" y2="355.6" stroke="#333" stroke-width="0.8"/>
<line x1="496.02" y1="353.6" x2="496.02" y2="355.6" stroke="#333" stroke-width="0.8"/>
<line x1="500.59" y1="353.6" x2="500.59" y2="355.6" stroke="#333" stroke-width="0.8"/>
<line x1="504.45" y1="353.6" x2="504.45" y2="355.6" stroke="#333" stroke-width="0.8"/>
<line x1="507.80" y1="353.6" x2="507.80" y2="355.6" stroke="#333" stroke-width="0.8"/>
<line x1="510.76" y1="353.6" x2="510.76" y2="355.6" stroke="#333" stroke-width="0.8"/>
<line x1="513.4" y1="353.6" x2="513.4" y2="357.6" stroke="#333" stroke-width="0.8"/>
<text transform="translate(277.20,353.40) rotate(-90)" text-anchor="middle" font-size="5.0" font-weight="bold" textLength="3.35" lengthAdjust="spacingAndGlyphs" font-family="'Liberation Sans', sans-serif" fill="#000">0</text>
<text transform="translate(277.20,328.78) rotate(-90)" text-anchor="middle" font-size="5.0" font-weight="bold" textLength="6.70" lengthAdjust="spacingAndGlyphs" font-family="'Liberation Sans', sans-serif" fill="#000">20</text>
<text transform="translate(277.20,304.16) rotate(-90)" text-anchor="middle" font-size="5.0" font-weight="bold" textLength="6.70" lengthAdjust="spacingAndGlyphs" font-family="'Liberation Sans', sans-serif" fill="#000">40</text>
<text transform="translate(277.20,279.54) rotate(-90)" text-anchor="middle" font-size="5.0" font-weight="bold" textLength="6.70" lengthAdjust="spacingAndGlyphs" font-family="'Liberation Sans', sans-serif" fill="#000">60</text>
<text transform="translate(277.20,254.92) rotate(-90)" text-anchor="middle" font-size="5.0" font-weight="bold" textLength="6.70" lengthAdjust="spacingAndGlyphs" font-family="'Liberation Sans', sans-serif" fill="#000">80</text>
<text transform="translate(277.20,230.30) rotate(-90)" text-anchor="middle" font-size="5.0" font-weight="bold" textLength="10.05" lengthAdjust="spacingAndGlyphs" font-family="'Liberation Sans', sans-serif" fill="#000">100</text>
<text transform="translate(270.80,293.60) rotate(-90)" text-anchor="middle" font-size="5.4" font-weight="bold" textLength="20.6" lengthAdjust="spacingAndGlyphs" font-family="'Liberation Sans', sans-serif" fill="#000">Counts</text>
<text x="277.50" y="364.7" font-size="6.3" font-weight="bold" textLength="5.4" lengthAdjust="spacingAndGlyphs" font-family="'Liberation Sans', sans-serif" fill="#2a2a2a">10</text>
<text x="283.30" y="360.8" font-size="6.2" font-family="'Liberation Sans', sans-serif" fill="#2a2a2a">0</text>
<text x="335.25" y="364.7" font-size="6.3" font-weight="bold" textLength="5.4" lengthAdjust="spacingAndGlyphs" font-family="'Liberation Sans', sans-serif" fill="#2a2a2a">10</text>
<text x="341.05" y="360.8" font-size="6.2" font-family="'Liberation Sans', sans-serif" fill="#2a2a2a">1</text>
<text x="393.00" y="364.7" font-size="6.3" font-weight="bold" textLength="5.4" lengthAdjust="spacingAndGlyphs" font-family="'Liberation Sans', sans-serif" fill="#2a2a2a">10</text>
<text x="398.80" y="360.8" font-size="6.2" font-family="'Liberation Sans', sans-serif" fill="#2a2a2a">2</text>
<text x="450.75" y="364.7" font-size="6.3" font-weight="bold" textLength="5.4" lengthAdjust="spacingAndGlyphs" font-family="'Liberation Sans', sans-serif" fill="#2a2a2a">10</text>
<text x="456.55" y="360.8" font-size="6.2" font-family="'Liberation Sans', sans-serif" fill="#2a2a2a">3</text>
<text x="508.50" y="364.7" font-size="6.3" font-weight="bold" textLength="5.4" lengthAdjust="spacingAndGlyphs" font-family="'Liberation Sans', sans-serif" fill="#2a2a2a">10</text>
<text x="514.30" y="360.8" font-size="6.2" font-family="'Liberation Sans', sans-serif" fill="#2a2a2a">4</text>
<text x="389.20" y="371.3" font-size="6.5" font-weight="bold" textLength="15.4" lengthAdjust="spacingAndGlyphs" font-family="'Liberation Sans', sans-serif" fill="#1a1a1a">FL1-H</text>
<line x1="429.80" y1="243.30" x2="456.80" y2="243.30" stroke="#5014a8" stroke-width="2"/>
<text x="463.20" y="245.30" font-size="9.55" font-weight="bold" font-family="'Liberation Sans', sans-serif" fill="#000">Control</text>
<line x1="429.80" y1="259.20" x2="456.80" y2="259.20" stroke="#30dc30" stroke-width="2"/>
<text x="463.20" y="261.80" font-size="9.55" font-weight="bold" font-family="'Liberation Sans', sans-serif" fill="#000">Untreated</text>
<line x1="429.80" y1="275.10" x2="456.80" y2="275.10" stroke="#a82a98" stroke-width="2"/>
<text x="463.20" y="278.30" font-size="9.55" font-weight="bold" font-family="'Liberation Sans', sans-serif" fill="#000">Imatinib</text>
<line x1="429.80" y1="291.00" x2="456.80" y2="291.00" stroke="#2aa6dc" stroke-width="2"/>
<text x="463.20" y="294.80" font-size="9.55" font-weight="bold" font-family="'Liberation Sans', sans-serif" fill="#000">Dasatinib</text>
</svg>
</body></html>
